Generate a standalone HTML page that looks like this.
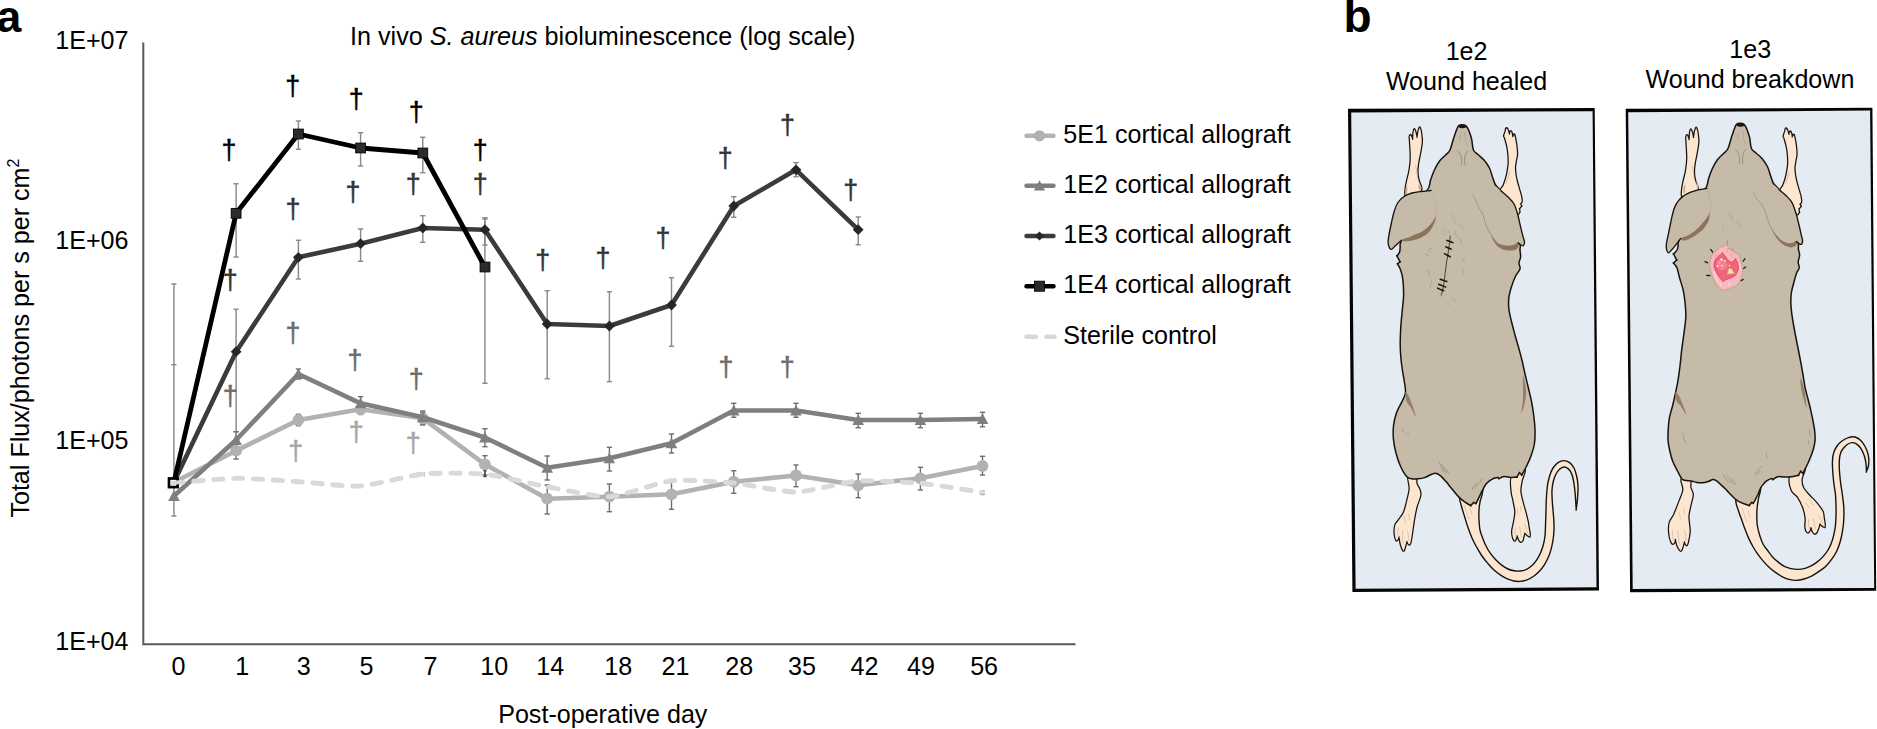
<!DOCTYPE html>
<html lang="en"><head><meta charset="utf-8"><title>In vivo S. aureus bioluminescence</title>
<style>
html,body{margin:0;padding:0;background:#fff;}
body{width:1877px;height:729px;overflow:hidden;}
svg{display:block;font-family:"Liberation Sans", sans-serif;}
</style></head><body>
<svg width="1877" height="729" viewBox="0 0 1877 729">
<g id="chart">
<text x="-3.6" y="31.8" font-size="44.5" text-anchor="start" fill="#000" font-weight="bold">a</text>
<text x="350" y="44.6" font-size="25.2" fill="#000">In vivo <tspan font-style="italic">S. aureus</tspan> bioluminescence (log scale)</text>
<text x="55.2" y="49.2" font-size="25.1" text-anchor="start" fill="#000" >1E+07</text>
<text x="55.2" y="248.8" font-size="25.1" text-anchor="start" fill="#000" >1E+06</text>
<text x="55.2" y="449.4" font-size="25.1" text-anchor="start" fill="#000" >1E+05</text>
<text x="55.2" y="650.4" font-size="25.1" text-anchor="start" fill="#000" >1E+04</text>
<text transform="translate(28.8 517.6) rotate(-90)" font-size="25.1" fill="#000">Total Flux/photons per s per cm<tspan dy="-9.5" font-size="16">2</tspan></text>
<text x="178.6" y="674.6" font-size="25.1" text-anchor="middle" fill="#000" >0</text>
<text x="242.2" y="674.6" font-size="25.1" text-anchor="middle" fill="#000" >1</text>
<text x="303.8" y="674.6" font-size="25.1" text-anchor="middle" fill="#000" >3</text>
<text x="366.4" y="674.6" font-size="25.1" text-anchor="middle" fill="#000" >5</text>
<text x="430.4" y="674.6" font-size="25.1" text-anchor="middle" fill="#000" >7</text>
<text x="494.3" y="674.6" font-size="25.1" text-anchor="middle" fill="#000" >10</text>
<text x="550.2" y="674.6" font-size="25.1" text-anchor="middle" fill="#000" >14</text>
<text x="618.2" y="674.6" font-size="25.1" text-anchor="middle" fill="#000" >18</text>
<text x="675.4" y="674.6" font-size="25.1" text-anchor="middle" fill="#000" >21</text>
<text x="739.3" y="674.6" font-size="25.1" text-anchor="middle" fill="#000" >28</text>
<text x="801.9" y="674.6" font-size="25.1" text-anchor="middle" fill="#000" >35</text>
<text x="864.5" y="674.6" font-size="25.1" text-anchor="middle" fill="#000" >42</text>
<text x="921" y="674.6" font-size="25.1" text-anchor="middle" fill="#000" >49</text>
<text x="984.1" y="674.6" font-size="25.1" text-anchor="middle" fill="#000" >56</text>
<text x="602.8" y="722.6" font-size="25.1" text-anchor="middle" fill="#000" >Post-operative day</text>
<path d="M173.9 284V516" stroke="#8a8a8a" stroke-width="1.45" fill="none"/>
<path d="M171.3 284H176.5" stroke="#8a8a8a" stroke-width="1.45" fill="none"/>
<path d="M171.3 364.7H176.5" stroke="#8a8a8a" stroke-width="1.45" fill="none"/>
<path d="M171.3 516H176.5" stroke="#8a8a8a" stroke-width="1.45" fill="none"/>
<path d="M236.1 183.7V257" stroke="#8a8a8a" stroke-width="1.45" fill="none"/>
<path d="M233.5 183.7H238.7" stroke="#8a8a8a" stroke-width="1.45" fill="none"/>
<path d="M233.5 257H238.7" stroke="#8a8a8a" stroke-width="1.45" fill="none"/>
<path d="M298.4 121V149.3" stroke="#8a8a8a" stroke-width="1.45" fill="none"/>
<path d="M295.8 121H301" stroke="#8a8a8a" stroke-width="1.45" fill="none"/>
<path d="M295.8 149.3H301" stroke="#8a8a8a" stroke-width="1.45" fill="none"/>
<path d="M360.6 132.7V166" stroke="#8a8a8a" stroke-width="1.45" fill="none"/>
<path d="M357.9 132.7H363.2" stroke="#8a8a8a" stroke-width="1.45" fill="none"/>
<path d="M357.9 166H363.2" stroke="#8a8a8a" stroke-width="1.45" fill="none"/>
<path d="M422.8 137.3V172.7" stroke="#8a8a8a" stroke-width="1.45" fill="none"/>
<path d="M420.1 137.3H425.4" stroke="#8a8a8a" stroke-width="1.45" fill="none"/>
<path d="M420.1 172.7H425.4" stroke="#8a8a8a" stroke-width="1.45" fill="none"/>
<path d="M484.9 219V383.3" stroke="#8a8a8a" stroke-width="1.45" fill="none"/>
<path d="M482.3 219H487.6" stroke="#8a8a8a" stroke-width="1.45" fill="none"/>
<path d="M482.3 383.3H487.6" stroke="#8a8a8a" stroke-width="1.45" fill="none"/>
<path d="M236.1 309.3V431.7" stroke="#8a8a8a" stroke-width="1.45" fill="none"/>
<path d="M233.5 309.3H238.7" stroke="#8a8a8a" stroke-width="1.45" fill="none"/>
<path d="M233.5 431.7H238.7" stroke="#8a8a8a" stroke-width="1.45" fill="none"/>
<path d="M298.4 240.3V279" stroke="#8a8a8a" stroke-width="1.45" fill="none"/>
<path d="M295.8 240.3H301" stroke="#8a8a8a" stroke-width="1.45" fill="none"/>
<path d="M295.8 279H301" stroke="#8a8a8a" stroke-width="1.45" fill="none"/>
<path d="M360.6 229V261.3" stroke="#8a8a8a" stroke-width="1.45" fill="none"/>
<path d="M357.9 229H363.2" stroke="#8a8a8a" stroke-width="1.45" fill="none"/>
<path d="M357.9 261.3H363.2" stroke="#8a8a8a" stroke-width="1.45" fill="none"/>
<path d="M422.8 215.7V242.3" stroke="#8a8a8a" stroke-width="1.45" fill="none"/>
<path d="M420.1 215.7H425.4" stroke="#8a8a8a" stroke-width="1.45" fill="none"/>
<path d="M420.1 242.3H425.4" stroke="#8a8a8a" stroke-width="1.45" fill="none"/>
<path d="M484.9 217.7V245" stroke="#8a8a8a" stroke-width="1.45" fill="none"/>
<path d="M482.3 217.7H487.6" stroke="#8a8a8a" stroke-width="1.45" fill="none"/>
<path d="M482.3 245H487.6" stroke="#8a8a8a" stroke-width="1.45" fill="none"/>
<path d="M547.2 290.7V378.7" stroke="#8a8a8a" stroke-width="1.45" fill="none"/>
<path d="M544.6 290.7H549.8" stroke="#8a8a8a" stroke-width="1.45" fill="none"/>
<path d="M544.6 378.7H549.8" stroke="#8a8a8a" stroke-width="1.45" fill="none"/>
<path d="M609.4 291.7V381.7" stroke="#8a8a8a" stroke-width="1.45" fill="none"/>
<path d="M606.8 291.7H612" stroke="#8a8a8a" stroke-width="1.45" fill="none"/>
<path d="M606.8 381.7H612" stroke="#8a8a8a" stroke-width="1.45" fill="none"/>
<path d="M671.5 277.7V346.3" stroke="#8a8a8a" stroke-width="1.45" fill="none"/>
<path d="M668.9 277.7H674.1" stroke="#8a8a8a" stroke-width="1.45" fill="none"/>
<path d="M668.9 346.3H674.1" stroke="#8a8a8a" stroke-width="1.45" fill="none"/>
<path d="M733.8 196.7V217.3" stroke="#8a8a8a" stroke-width="1.45" fill="none"/>
<path d="M731.1 196.7H736.4" stroke="#8a8a8a" stroke-width="1.45" fill="none"/>
<path d="M731.1 217.3H736.4" stroke="#8a8a8a" stroke-width="1.45" fill="none"/>
<path d="M796 162.7V176.7" stroke="#8a8a8a" stroke-width="1.45" fill="none"/>
<path d="M793.4 162.7H798.6" stroke="#8a8a8a" stroke-width="1.45" fill="none"/>
<path d="M793.4 176.7H798.6" stroke="#8a8a8a" stroke-width="1.45" fill="none"/>
<path d="M858.2 217V244.7" stroke="#8a8a8a" stroke-width="1.45" fill="none"/>
<path d="M855.6 217H860.8" stroke="#8a8a8a" stroke-width="1.45" fill="none"/>
<path d="M855.6 244.7H860.8" stroke="#8a8a8a" stroke-width="1.45" fill="none"/>
<path d="M236.1 431.7V448" stroke="#6e6e6e" stroke-width="1.4" fill="none"/>
<path d="M233.5 431.7H238.7" stroke="#6e6e6e" stroke-width="1.4" fill="none"/>
<path d="M233.5 448H238.7" stroke="#6e6e6e" stroke-width="1.4" fill="none"/>
<path d="M298.4 369V379" stroke="#6e6e6e" stroke-width="1.4" fill="none"/>
<path d="M295.8 369H301" stroke="#6e6e6e" stroke-width="1.4" fill="none"/>
<path d="M295.8 379H301" stroke="#6e6e6e" stroke-width="1.4" fill="none"/>
<path d="M360.6 396.7V410" stroke="#6e6e6e" stroke-width="1.4" fill="none"/>
<path d="M357.9 396.7H363.2" stroke="#6e6e6e" stroke-width="1.4" fill="none"/>
<path d="M357.9 410H363.2" stroke="#6e6e6e" stroke-width="1.4" fill="none"/>
<path d="M422.8 411V425" stroke="#6e6e6e" stroke-width="1.4" fill="none"/>
<path d="M420.1 411H425.4" stroke="#6e6e6e" stroke-width="1.4" fill="none"/>
<path d="M420.1 425H425.4" stroke="#6e6e6e" stroke-width="1.4" fill="none"/>
<path d="M484.9 428.7V446.7" stroke="#6e6e6e" stroke-width="1.4" fill="none"/>
<path d="M482.3 428.7H487.6" stroke="#6e6e6e" stroke-width="1.4" fill="none"/>
<path d="M482.3 446.7H487.6" stroke="#6e6e6e" stroke-width="1.4" fill="none"/>
<path d="M547.2 456V480" stroke="#6e6e6e" stroke-width="1.4" fill="none"/>
<path d="M544.6 456H549.8" stroke="#6e6e6e" stroke-width="1.4" fill="none"/>
<path d="M544.6 480H549.8" stroke="#6e6e6e" stroke-width="1.4" fill="none"/>
<path d="M609.4 447.3V471" stroke="#6e6e6e" stroke-width="1.4" fill="none"/>
<path d="M606.8 447.3H612" stroke="#6e6e6e" stroke-width="1.4" fill="none"/>
<path d="M606.8 471H612" stroke="#6e6e6e" stroke-width="1.4" fill="none"/>
<path d="M671.5 434V453" stroke="#6e6e6e" stroke-width="1.4" fill="none"/>
<path d="M668.9 434H674.1" stroke="#6e6e6e" stroke-width="1.4" fill="none"/>
<path d="M668.9 453H674.1" stroke="#6e6e6e" stroke-width="1.4" fill="none"/>
<path d="M733.8 403.3V417.3" stroke="#6e6e6e" stroke-width="1.4" fill="none"/>
<path d="M731.1 403.3H736.4" stroke="#6e6e6e" stroke-width="1.4" fill="none"/>
<path d="M731.1 417.3H736.4" stroke="#6e6e6e" stroke-width="1.4" fill="none"/>
<path d="M796 403.3V417.3" stroke="#6e6e6e" stroke-width="1.4" fill="none"/>
<path d="M793.4 403.3H798.6" stroke="#6e6e6e" stroke-width="1.4" fill="none"/>
<path d="M793.4 417.3H798.6" stroke="#6e6e6e" stroke-width="1.4" fill="none"/>
<path d="M858.2 413.3V427.7" stroke="#6e6e6e" stroke-width="1.4" fill="none"/>
<path d="M855.6 413.3H860.8" stroke="#6e6e6e" stroke-width="1.4" fill="none"/>
<path d="M855.6 427.7H860.8" stroke="#6e6e6e" stroke-width="1.4" fill="none"/>
<path d="M920.4 413.3V427.7" stroke="#6e6e6e" stroke-width="1.4" fill="none"/>
<path d="M917.8 413.3H923" stroke="#6e6e6e" stroke-width="1.4" fill="none"/>
<path d="M917.8 427.7H923" stroke="#6e6e6e" stroke-width="1.4" fill="none"/>
<path d="M982.5 412.3V426.7" stroke="#6e6e6e" stroke-width="1.4" fill="none"/>
<path d="M979.9 412.3H985.1" stroke="#6e6e6e" stroke-width="1.4" fill="none"/>
<path d="M979.9 426.7H985.1" stroke="#6e6e6e" stroke-width="1.4" fill="none"/>
<path d="M236.1 442V459" stroke="#6e6e6e" stroke-width="1.4" fill="none"/>
<path d="M233.5 442H238.7" stroke="#6e6e6e" stroke-width="1.4" fill="none"/>
<path d="M233.5 459H238.7" stroke="#6e6e6e" stroke-width="1.4" fill="none"/>
<path d="M298.4 414.3V425.7" stroke="#6e6e6e" stroke-width="1.4" fill="none"/>
<path d="M295.8 414.3H301" stroke="#6e6e6e" stroke-width="1.4" fill="none"/>
<path d="M295.8 425.7H301" stroke="#6e6e6e" stroke-width="1.4" fill="none"/>
<path d="M360.6 404V414.5" stroke="#6e6e6e" stroke-width="1.4" fill="none"/>
<path d="M357.9 404H363.2" stroke="#6e6e6e" stroke-width="1.4" fill="none"/>
<path d="M357.9 414.5H363.2" stroke="#6e6e6e" stroke-width="1.4" fill="none"/>
<path d="M422.8 412.5V424" stroke="#6e6e6e" stroke-width="1.4" fill="none"/>
<path d="M420.1 412.5H425.4" stroke="#6e6e6e" stroke-width="1.4" fill="none"/>
<path d="M420.1 424H425.4" stroke="#6e6e6e" stroke-width="1.4" fill="none"/>
<path d="M484.9 455.7V475" stroke="#6e6e6e" stroke-width="1.4" fill="none"/>
<path d="M482.3 455.7H487.6" stroke="#6e6e6e" stroke-width="1.4" fill="none"/>
<path d="M482.3 475H487.6" stroke="#6e6e6e" stroke-width="1.4" fill="none"/>
<path d="M547.2 485V514" stroke="#6e6e6e" stroke-width="1.4" fill="none"/>
<path d="M544.6 485H549.8" stroke="#6e6e6e" stroke-width="1.4" fill="none"/>
<path d="M544.6 514H549.8" stroke="#6e6e6e" stroke-width="1.4" fill="none"/>
<path d="M609.4 484V511.7" stroke="#6e6e6e" stroke-width="1.4" fill="none"/>
<path d="M606.8 484H612" stroke="#6e6e6e" stroke-width="1.4" fill="none"/>
<path d="M606.8 511.7H612" stroke="#6e6e6e" stroke-width="1.4" fill="none"/>
<path d="M671.5 481.7V509.3" stroke="#6e6e6e" stroke-width="1.4" fill="none"/>
<path d="M668.9 481.7H674.1" stroke="#6e6e6e" stroke-width="1.4" fill="none"/>
<path d="M668.9 509.3H674.1" stroke="#6e6e6e" stroke-width="1.4" fill="none"/>
<path d="M733.8 470.7V493.3" stroke="#6e6e6e" stroke-width="1.4" fill="none"/>
<path d="M731.1 470.7H736.4" stroke="#6e6e6e" stroke-width="1.4" fill="none"/>
<path d="M731.1 493.3H736.4" stroke="#6e6e6e" stroke-width="1.4" fill="none"/>
<path d="M796 465V486.7" stroke="#6e6e6e" stroke-width="1.4" fill="none"/>
<path d="M793.4 465H798.6" stroke="#6e6e6e" stroke-width="1.4" fill="none"/>
<path d="M793.4 486.7H798.6" stroke="#6e6e6e" stroke-width="1.4" fill="none"/>
<path d="M858.2 474V497.7" stroke="#6e6e6e" stroke-width="1.4" fill="none"/>
<path d="M855.6 474H860.8" stroke="#6e6e6e" stroke-width="1.4" fill="none"/>
<path d="M855.6 497.7H860.8" stroke="#6e6e6e" stroke-width="1.4" fill="none"/>
<path d="M920.4 467.3V490" stroke="#6e6e6e" stroke-width="1.4" fill="none"/>
<path d="M917.8 467.3H923" stroke="#6e6e6e" stroke-width="1.4" fill="none"/>
<path d="M917.8 490H923" stroke="#6e6e6e" stroke-width="1.4" fill="none"/>
<path d="M982.5 456.3V475" stroke="#6e6e6e" stroke-width="1.4" fill="none"/>
<path d="M979.9 456.3H985.1" stroke="#6e6e6e" stroke-width="1.4" fill="none"/>
<path d="M979.9 475H985.1" stroke="#6e6e6e" stroke-width="1.4" fill="none"/>
<path d="M424.2 472.8V476" stroke="#bdbdbd" stroke-width="1.1" fill="none"/>
<path d="M423.2 472.8H425.2" stroke="#bdbdbd" stroke-width="1.1" fill="none"/>
<path d="M423.2 476H425.2" stroke="#bdbdbd" stroke-width="1.1" fill="none"/>
<path d="M484.9 470.5V476.5" stroke="#444" stroke-width="1.4" fill="none"/>
<path d="M483.3 470.5H486.6" stroke="#444" stroke-width="1.4" fill="none"/>
<path d="M483.3 476.5H486.6" stroke="#444" stroke-width="1.4" fill="none"/>
<path d="M982.5 490.7V494.5" stroke="#6e6e6e" stroke-width="1.3" fill="none"/>
<path d="M980.5 490.7H984.5" stroke="#6e6e6e" stroke-width="1.3" fill="none"/>
<path d="M980.5 494.5H984.5" stroke="#6e6e6e" stroke-width="1.3" fill="none"/>
<path d="M173.9 482.3L236.1 450.7L298.4 420L360.6 409.3L422.8 418.3L484.9 464.3L547.2 498.7L609.4 496.7L671.5 494.3L733.8 481.7L796 475.5L858.2 485.3L920.4 478.3L982.5 466" stroke="#b2b2b2" stroke-width="4.6" fill="none" stroke-linejoin="round" stroke-linecap="round"/>
<circle cx="236.1" cy="450.7" r="5.9" fill="#b2b2b2"/>
<circle cx="298.4" cy="420" r="5.9" fill="#b2b2b2"/>
<circle cx="360.6" cy="409.3" r="5.9" fill="#b2b2b2"/>
<circle cx="422.8" cy="418.3" r="5.9" fill="#b2b2b2"/>
<circle cx="484.9" cy="464.3" r="5.9" fill="#b2b2b2"/>
<circle cx="547.2" cy="498.7" r="5.9" fill="#b2b2b2"/>
<circle cx="609.4" cy="496.7" r="5.9" fill="#b2b2b2"/>
<circle cx="671.5" cy="494.3" r="5.9" fill="#b2b2b2"/>
<circle cx="733.8" cy="481.7" r="5.9" fill="#b2b2b2"/>
<circle cx="796" cy="475.5" r="5.9" fill="#b2b2b2"/>
<circle cx="858.2" cy="485.3" r="5.9" fill="#b2b2b2"/>
<circle cx="920.4" cy="478.3" r="5.9" fill="#b2b2b2"/>
<circle cx="982.5" cy="466" r="5.9" fill="#b2b2b2"/>
<path d="M173.9 496L236.1 440L298.4 374L360.6 403.3L422.8 417.3L484.9 437.5L547.2 467.7L609.4 458.3L671.5 443.3L733.8 410.5L796 410.5L858.2 420L920.4 420L982.5 419" stroke="#7f7f7f" stroke-width="4.6" fill="none" stroke-linejoin="round" stroke-linecap="round"/>
<path d="M173.9 490.2L179.8 501L168.1 501Z" fill="#7f7f7f"/>
<path d="M236.1 434.2L241.9 445L230.3 445Z" fill="#7f7f7f"/>
<path d="M298.4 368.2L304.2 379L292.6 379Z" fill="#7f7f7f"/>
<path d="M360.6 397.5L366.4 408.3L354.8 408.3Z" fill="#7f7f7f"/>
<path d="M422.8 411.5L428.6 422.3L416.9 422.3Z" fill="#7f7f7f"/>
<path d="M484.9 431.7L490.8 442.5L479.1 442.5Z" fill="#7f7f7f"/>
<path d="M547.2 461.9L553 472.7L541.4 472.7Z" fill="#7f7f7f"/>
<path d="M609.4 452.5L615.1 463.3L603.6 463.3Z" fill="#7f7f7f"/>
<path d="M671.5 437.5L677.3 448.3L665.8 448.3Z" fill="#7f7f7f"/>
<path d="M733.8 404.7L739.5 415.5L728 415.5Z" fill="#7f7f7f"/>
<path d="M796 404.7L801.8 415.5L790.2 415.5Z" fill="#7f7f7f"/>
<path d="M858.2 414.2L864 425L852.4 425Z" fill="#7f7f7f"/>
<path d="M920.4 414.2L926.2 425L914.6 425Z" fill="#7f7f7f"/>
<path d="M982.5 413.2L988.3 424L976.8 424Z" fill="#7f7f7f"/>
<path d="M173.9 482.3L236.1 351.7L298.4 257.3L360.6 243.7L422.8 228L484.9 229.7L547.2 324L609.4 326L671.5 305L733.8 206L796 169.8L858.2 229.7" stroke="#3b3b3b" stroke-width="4.6" fill="none" stroke-linejoin="round" stroke-linecap="round"/>
<path d="M236.1 346.3L241.5 351.7L236.1 357.1L230.7 351.7Z" fill="#262626"/>
<path d="M298.4 251.9L303.8 257.3L298.4 262.7L293 257.3Z" fill="#262626"/>
<path d="M360.6 238.3L365.9 243.7L360.6 249.1L355.2 243.7Z" fill="#262626"/>
<path d="M422.8 222.6L428.1 228L422.8 233.4L417.4 228Z" fill="#262626"/>
<path d="M484.9 224.3L490.3 229.7L484.9 235.1L479.6 229.7Z" fill="#262626"/>
<path d="M547.2 318.6L552.6 324L547.2 329.4L541.8 324Z" fill="#262626"/>
<path d="M609.4 320.6L614.8 326L609.4 331.4L604 326Z" fill="#262626"/>
<path d="M671.5 299.6L676.9 305L671.5 310.4L666.1 305Z" fill="#262626"/>
<path d="M733.8 200.6L739.1 206L733.8 211.4L728.4 206Z" fill="#262626"/>
<path d="M796 164.4L801.4 169.8L796 175.2L790.6 169.8Z" fill="#262626"/>
<path d="M858.2 224.3L863.6 229.7L858.2 235.1L852.8 229.7Z" fill="#262626"/>
<path d="M173.9 482.3L236.1 213.3L298.4 134L360.6 148L422.8 153L484.9 267" stroke="#000" stroke-width="4.8" fill="none" stroke-linejoin="round" stroke-linecap="round"/>
<rect x="231.2" y="208.4" width="9.8" height="9.8" fill="#2b2b2b" stroke="#000" stroke-width="0.9"/>
<rect x="293.5" y="129.1" width="9.8" height="9.8" fill="#2b2b2b" stroke="#000" stroke-width="0.9"/>
<rect x="355.7" y="143.1" width="9.8" height="9.8" fill="#2b2b2b" stroke="#000" stroke-width="0.9"/>
<rect x="417.9" y="148.1" width="9.8" height="9.8" fill="#2b2b2b" stroke="#000" stroke-width="0.9"/>
<rect x="480.1" y="262.1" width="9.8" height="9.8" fill="#2b2b2b" stroke="#000" stroke-width="0.9"/>
<path d="M173.9 483C180.2 482.5 223.7 478.4 236.1 478.3C248.6 478.2 285.9 480.9 298.4 481.7C310.8 482.5 348.1 486.8 360.6 486C373 485.2 410.3 475.2 422.8 474C435.2 472.8 472.5 472.9 484.9 474.2C497.4 475.5 534.7 484.4 547.2 486.7C559.6 488.9 596.9 497.3 609.4 496.7C621.8 496.1 659.1 482.1 671.5 480.7C684 479.3 721.3 481.9 733.8 483C746.2 484.1 783.5 492.2 796 492C808.4 491.8 845.7 481.9 858.2 481C870.6 480.1 907.9 482.2 920.4 483.3C932.8 484.4 976.3 491.4 982.5 492.3" stroke="#d9d9d9" stroke-width="4.9" fill="none" stroke-dasharray="9.4 10.5" stroke-linecap="round"/>
<rect x="169" y="478.5" width="8.6" height="8.6" fill="#fff" stroke="#000" stroke-width="2.7"/>
<path d="M172.4 483L180.9 482" stroke="#d9d9d9" stroke-width="4.2" stroke-linecap="round"/>
<text x="229" y="159.2" font-size="26.9" text-anchor="middle" fill="#000" stroke="#000" stroke-width="0.45" stroke-linejoin="round">†</text>
<text x="292.7" y="94.8" font-size="26.9" text-anchor="middle" fill="#000" stroke="#000" stroke-width="0.45" stroke-linejoin="round">†</text>
<text x="356.3" y="107.8" font-size="26.9" text-anchor="middle" fill="#000" stroke="#000" stroke-width="0.45" stroke-linejoin="round">†</text>
<text x="416.3" y="120.5" font-size="26.9" text-anchor="middle" fill="#000" stroke="#000" stroke-width="0.45" stroke-linejoin="round">†</text>
<text x="480.2" y="158.8" font-size="26.9" text-anchor="middle" fill="#000" stroke="#000" stroke-width="0.45" stroke-linejoin="round">†</text>
<text x="230.3" y="288.9" font-size="26.9" text-anchor="middle" fill="#333" stroke="#333" stroke-width="0.45" stroke-linejoin="round">†</text>
<text x="293" y="218.2" font-size="26.9" text-anchor="middle" fill="#333" stroke="#333" stroke-width="0.45" stroke-linejoin="round">†</text>
<text x="353" y="201.2" font-size="26.9" text-anchor="middle" fill="#333" stroke="#333" stroke-width="0.45" stroke-linejoin="round">†</text>
<text x="413.3" y="192.8" font-size="26.9" text-anchor="middle" fill="#333" stroke="#333" stroke-width="0.45" stroke-linejoin="round">†</text>
<text x="480.2" y="192.7" font-size="26.9" text-anchor="middle" fill="#333" stroke="#333" stroke-width="0.45" stroke-linejoin="round">†</text>
<text x="542.7" y="268.9" font-size="26.9" text-anchor="middle" fill="#333" stroke="#333" stroke-width="0.45" stroke-linejoin="round">†</text>
<text x="603" y="267.2" font-size="26.9" text-anchor="middle" fill="#333" stroke="#333" stroke-width="0.45" stroke-linejoin="round">†</text>
<text x="663" y="246.8" font-size="26.9" text-anchor="middle" fill="#333" stroke="#333" stroke-width="0.45" stroke-linejoin="round">†</text>
<text x="725.3" y="167.2" font-size="26.9" text-anchor="middle" fill="#333" stroke="#333" stroke-width="0.45" stroke-linejoin="round">†</text>
<text x="787.4" y="134.3" font-size="26.9" text-anchor="middle" fill="#333" stroke="#333" stroke-width="0.45" stroke-linejoin="round">†</text>
<text x="850.7" y="198.5" font-size="26.9" text-anchor="middle" fill="#333" stroke="#333" stroke-width="0.45" stroke-linejoin="round">†</text>
<text x="230.3" y="404.6" font-size="26.9" text-anchor="middle" fill="#6b6b6b" stroke="#6b6b6b" stroke-width="0.45" stroke-linejoin="round">†</text>
<text x="293" y="341.6" font-size="26.9" text-anchor="middle" fill="#6b6b6b" stroke="#6b6b6b" stroke-width="0.45" stroke-linejoin="round">†</text>
<text x="355" y="368.9" font-size="26.9" text-anchor="middle" fill="#6b6b6b" stroke="#6b6b6b" stroke-width="0.45" stroke-linejoin="round">†</text>
<text x="416.3" y="387.6" font-size="26.9" text-anchor="middle" fill="#6b6b6b" stroke="#6b6b6b" stroke-width="0.45" stroke-linejoin="round">†</text>
<text x="726" y="376.2" font-size="26.9" text-anchor="middle" fill="#6b6b6b" stroke="#6b6b6b" stroke-width="0.45" stroke-linejoin="round">†</text>
<text x="787.3" y="376.2" font-size="26.9" text-anchor="middle" fill="#6b6b6b" stroke="#6b6b6b" stroke-width="0.45" stroke-linejoin="round">†</text>
<text x="295.7" y="459.6" font-size="26.9" text-anchor="middle" fill="#a6a6a6" stroke="#a6a6a6" stroke-width="0.45" stroke-linejoin="round">†</text>
<text x="356.3" y="440.9" font-size="26.9" text-anchor="middle" fill="#a6a6a6" stroke="#a6a6a6" stroke-width="0.45" stroke-linejoin="round">†</text>
<text x="413.3" y="451.6" font-size="26.9" text-anchor="middle" fill="#a6a6a6" stroke="#a6a6a6" stroke-width="0.45" stroke-linejoin="round">†</text>
<path d="M143.3 42.5V644.3H1075.5" stroke="#595959" stroke-width="2" fill="none"/>
<path d="M1026.5 135.8H1053.5" stroke="#b2b2b2" stroke-width="4.4" stroke-linecap="round"/>
<circle cx="1039.5" cy="135.8" r="5.6" fill="#b2b2b2"/>
<text x="1063.3" y="142.7" font-size="25.1" text-anchor="start" fill="#000" >5E1 cortical allograft</text>
<path d="M1026.5 185.8H1053.5" stroke="#7f7f7f" stroke-width="4.4" stroke-linecap="round"/>
<path d="M1039.5 180.2L1045.1 190.4L1033.9 190.4Z" fill="#7f7f7f"/>
<text x="1063.3" y="192.7" font-size="25.1" text-anchor="start" fill="#000" >1E2 cortical allograft</text>
<path d="M1026.5 236H1053.5" stroke="#3b3b3b" stroke-width="4.4" stroke-linecap="round"/>
<path d="M1039.5 231.4L1044.1 236L1039.5 240.6L1034.9 236Z" fill="#262626"/>
<text x="1063.3" y="242.9" font-size="25.1" text-anchor="start" fill="#000" >1E3 cortical allograft</text>
<path d="M1026.5 286.2H1053.5" stroke="#000" stroke-width="4.4" stroke-linecap="round"/>
<rect x="1034.5" y="281.2" width="10" height="10" fill="#2b2b2b" stroke="#000" stroke-width="0.9"/>
<text x="1063.3" y="293.1" font-size="25.1" text-anchor="start" fill="#000" >1E4 cortical allograft</text>
<path d="M1026.5 336.8H1054.5" stroke="#d9d9d9" stroke-width="4.6" stroke-linecap="round" stroke-dasharray="9.4 10.5"/>
<text x="1063.3" y="343.6" font-size="25.1" text-anchor="start" fill="#000" >Sterile control</text>
</g>
<g id="panelb">
<text x="1343.4" y="31.6" font-size="46" text-anchor="start" fill="#000" font-weight="bold">b</text>
<text x="1466.6" y="59.7" font-size="25.1" text-anchor="middle" fill="#000" >1e2</text>
<text x="1466.6" y="89.8" font-size="25.1" text-anchor="middle" fill="#000" >Wound healed</text>
<text x="1750.3" y="58.3" font-size="25.1" text-anchor="middle" fill="#000" >1e3</text>
<text x="1750" y="88.3" font-size="25.1" text-anchor="middle" fill="#000" >Wound breakdown</text>
<path d="M1348 108.8L1594.7 108.1L1599 590.5L1352.4 592Z" fill="#050505"/>
<path d="M1351.2 112.6L1592.6 111.2L1596.5 587.3L1355.6 588.7Z" fill="#e4ebf2"/>
<path d="M1625.7 108.7L1872.4 107.8L1876.2 590.8L1630.1 592.3Z" fill="#050505"/>
<path d="M1628.2 112.2L1870.1 110.6L1874.2 587.9L1632.7 589Z" fill="#e4ebf2"/>
<path d="M1461 487C1457.4 489 1459.3 493.8 1459.4 497C1459.5 500.2 1460.6 502.8 1461.4 506C1462.2 509.2 1463.3 512.4 1464.4 516C1465.5 519.6 1466.7 523.9 1468 527.6C1469.3 531.3 1470.6 534.8 1472 538C1473.4 541.2 1474.9 544 1476.6 547C1478.3 550 1480.1 553.2 1482 556C1483.9 558.8 1486 561.3 1488 563.6C1490 565.9 1491.8 568 1494 570C1496.2 572 1498.7 573.9 1501 575.4C1503.3 576.9 1505.8 578.3 1508 579.2C1510.2 580.1 1512 580.6 1514 581C1516 581.4 1517.8 581.6 1520 581.4C1522.2 581.2 1524.7 580.7 1527 579.8C1529.3 578.9 1531.9 577.5 1534 576C1536.1 574.5 1537.9 572.8 1539.6 571C1541.3 569.2 1542.6 567.6 1544 565.4C1545.4 563.2 1546.8 560.6 1548 558C1549.2 555.4 1550.2 552.6 1551 549.6C1551.8 546.6 1552.5 543.3 1553 540C1553.5 536.7 1553.9 533.3 1554 530C1554.1 526.7 1554 523.3 1553.8 520C1553.6 516.7 1553.3 513.3 1553 510C1552.7 506.7 1552.4 503.3 1552.2 500C1552 496.7 1551.8 493.2 1552 490C1552.2 486.8 1552.7 483.7 1553.4 481C1554.1 478.3 1554.9 476 1556 474C1557.1 472 1558.5 470.2 1559.8 469C1561.1 467.8 1562.6 467.1 1564 467C1565.4 466.9 1566.8 467.7 1568 468.6C1569.2 469.5 1570.1 470.5 1571 472.4C1571.9 474.3 1572.8 477.1 1573.4 480C1574 482.9 1574.4 486.7 1574.8 490C1575.2 493.3 1575.4 496.8 1575.6 500C1575.8 503.2 1576.1 507.5 1576.2 509C1576.3 510.5 1576 510.5 1576.2 509C1576.4 507.5 1577.1 503.8 1577.4 500C1577.7 496.2 1578.1 490 1578 486C1577.9 482 1577.3 479 1576.6 476C1575.9 473 1575.2 470.2 1574 468C1572.8 465.8 1571.3 463.8 1569.6 462.6C1567.9 461.4 1565.9 460.6 1564 460.6C1562.1 460.6 1559.8 461.4 1558 462.6C1556.2 463.8 1554.4 465.8 1553 468C1551.6 470.2 1550.5 473 1549.6 476C1548.7 479 1547.9 482.3 1547.4 486C1546.9 489.7 1546.6 494 1546.4 498C1546.2 502 1546.1 505.8 1546 510C1545.9 514.2 1545.8 518.7 1545.6 523C1545.4 527.3 1545.4 532.2 1545 536C1544.6 539.8 1543.8 543 1543 546C1542.2 549 1541.1 551.6 1540 554C1538.9 556.4 1537.7 558.5 1536.4 560.4C1535.1 562.3 1533.6 564.1 1532 565.6C1530.4 567.1 1528.6 568.5 1526.6 569.4C1524.6 570.3 1522.1 570.8 1520 571C1517.9 571.2 1516 571.1 1514 570.8C1512 570.5 1510 569.9 1508 569C1506 568.1 1504 566.9 1502 565.4C1500 563.9 1497.9 562 1496 560C1494.1 558 1492.3 555.9 1490.6 553.6C1488.9 551.3 1487.3 548.6 1486 546C1484.7 543.4 1483.6 540.7 1482.6 538C1481.6 535.3 1480.6 533 1480 530C1479.4 527 1479.2 523.3 1479 520C1478.8 516.7 1478.8 513.2 1479 510C1479.2 506.8 1479.6 503.8 1480.2 501C1480.8 498.2 1482.3 495.7 1482.4 493C1482.5 490.3 1484.6 486 1481 485C1477.4 484 1464.6 485 1461 487Z" fill="#fde6d0" stroke="#17130f" stroke-width="1.4" stroke-linejoin="round" stroke-linecap="round"/>
<path d="M1407.8 476C1406.7 478.1 1409.3 484.4 1409.1 488.5C1408.9 492.6 1407.5 497 1406.6 500.9C1405.7 504.8 1404.8 508.9 1403.5 512C1402.2 515.1 1400 517.3 1398.6 519.4C1397.2 521.5 1395.7 522.5 1394.9 524.6C1394.1 526.7 1394 529.6 1394 531.7C1394 533.8 1394.3 535.5 1394.6 537C1394.9 538.5 1395.5 540.2 1396 540.8C1396.5 541.4 1397.1 540.9 1397.6 540.4C1398.1 539.9 1398.8 538.1 1399 537.6C1399.2 537.1 1398.8 536.4 1399 537.6C1399.2 538.8 1399.8 542.8 1400.4 545C1401 547.2 1401.9 549.7 1402.6 550.6C1403.3 551.5 1403.9 551.4 1404.4 550.6C1404.9 549.8 1405.4 547.4 1405.8 546C1406.2 544.6 1406.8 542.7 1407 542C1407.2 541.3 1406.8 541.6 1407 542C1407.2 542.4 1407.7 543.9 1408.2 544.4C1408.7 544.9 1409.3 545.3 1409.8 545C1410.3 544.7 1410.7 543.8 1411 542.6C1411.3 541.4 1411.6 539.9 1411.9 538C1412.2 536.1 1412.5 534.1 1412.9 531C1413.4 527.9 1413.9 523.4 1414.6 519.4C1415.3 515.4 1416.1 510.9 1417.1 507C1418.1 503.1 1420.3 498.8 1420.8 495.9C1421.3 493 1420.8 491.9 1420.2 489.8C1419.6 487.8 1417.8 485.9 1417.1 483.6C1416.4 481.3 1417.5 477.3 1415.9 476C1414.4 474.7 1408.9 473.9 1407.8 476Z" fill="#fde6d0" stroke="#17130f" stroke-width="1.25" stroke-linejoin="round" stroke-linecap="round"/>
<path d="M1511.6 476C1509.2 479.6 1510.8 486.8 1511 490.9C1511.2 495 1512.3 497.2 1512.9 500.7C1513.5 504.2 1514.7 508.4 1514.8 511.9C1514.9 515.4 1514 518.6 1513.5 521.7C1513 524.8 1512 528 1511.7 530.4C1511.5 532.8 1511.7 534.3 1512 536C1512.3 537.7 1513 539.6 1513.6 540.4C1514.2 541.2 1515 541.3 1515.6 540.6C1516.2 539.9 1516.9 537.1 1517.2 536.4C1517.5 535.7 1517 535.8 1517.2 536.4C1517.4 537 1518 539 1518.6 540C1519.2 541 1519.9 542.2 1520.6 542.4C1521.3 542.6 1522.3 541.8 1522.8 541C1523.3 540.2 1523.5 538.8 1523.8 537.6C1524.1 536.4 1524.6 534.3 1524.8 533.6C1525 532.9 1524.4 533.3 1524.8 533.6C1525.2 533.9 1526.1 534.8 1527 535.4C1527.9 536 1529.5 537.4 1530 537C1530.5 536.6 1530.3 534.6 1530.2 533C1530.1 531.4 1529.5 529.5 1529.2 527.6C1528.9 525.7 1528.8 524.3 1528.3 521.7C1527.8 519.1 1526.8 515.4 1525.9 511.9C1525 508.4 1523.6 504.2 1522.8 500.7C1522 497.2 1521 494.2 1520.9 490.9C1520.8 487.6 1521.5 484.6 1522.2 481C1522.9 477.4 1527 469.8 1525.2 469C1523.4 468.2 1514 472.4 1511.6 476Z" fill="#fde6d0" stroke="#17130f" stroke-width="1.25" stroke-linejoin="round" stroke-linecap="round"/>
<path d="M1409.2 138C1409.1 136 1409.2 136.2 1409.4 135.6C1409.6 135 1410.2 134.4 1410.6 134.4C1411 134.4 1411.3 134.9 1411.6 135.6C1411.9 136.3 1412.4 138.3 1412.6 138.8C1412.8 139.3 1412.5 139.9 1412.6 138.8C1412.7 137.7 1412.7 133.7 1413 132C1413.3 130.3 1413.8 128.8 1414.2 128.6C1414.6 128.4 1415.1 129.3 1415.6 130.6C1416.1 131.9 1416.8 135.6 1417 136.6C1417.2 137.6 1416.8 137.6 1417 136.6C1417.2 135.6 1417.6 132.2 1418 130.6C1418.4 129 1419.1 127 1419.6 126.8C1420.1 126.6 1420.6 128.4 1421 129.6C1421.4 130.8 1421.6 131.9 1421.8 134C1422 136.1 1422.6 138.8 1422.4 142C1422.2 145.2 1421.3 149.3 1420.7 153C1420.1 156.7 1419 160.7 1418.6 164C1418.1 167.3 1417.9 169.9 1418 172.7C1418.1 175.5 1418.7 178.4 1419.4 181C1420.1 183.6 1422.2 186.1 1422 188.4C1421.8 190.7 1420.7 193.6 1418 195C1415.3 196.4 1408.2 197.8 1406 197C1403.8 196.2 1404.9 192.8 1405 190C1405.1 187.2 1405.9 183.7 1406.6 180.4C1407.3 177.1 1408.4 173.7 1409 170C1409.6 166.3 1410.1 162.2 1410.2 158.5C1410.3 154.8 1410 150.9 1409.8 147.5C1409.6 144.1 1409.3 140 1409.2 138Z" fill="#fde6d0" stroke="#17130f" stroke-width="1.25" stroke-linejoin="round" stroke-linecap="round"/>
<path d="M1504.6 138.6C1504 136.5 1503.7 137.1 1503.6 136.4C1503.5 135.7 1503.8 135 1504 134.2C1504.2 133.4 1504.7 132.5 1505 131.6C1505.3 130.7 1505.3 129.3 1505.6 128.6C1505.9 127.9 1506.4 127.4 1506.8 127.6C1507.2 127.8 1507.8 128.6 1508.2 129.6C1508.6 130.6 1509.2 132.9 1509.4 133.6C1509.6 134.3 1509.3 134 1509.4 133.6C1509.5 133.2 1509.7 131.9 1510 131.4C1510.3 130.9 1510.8 130.6 1511.2 130.8C1511.6 131 1511.9 131.9 1512.2 132.8C1512.5 133.7 1512.7 135.6 1512.8 136.2C1512.9 136.8 1512.7 136.5 1512.8 136.2C1512.9 135.9 1513.3 134.5 1513.6 134.2C1513.9 133.9 1514.4 133.5 1514.8 134.4C1515.2 135.3 1515.6 137.7 1516 139.6C1516.4 141.5 1516.7 143.6 1517 146C1517.3 148.4 1517.7 151.5 1517.6 154C1517.5 156.5 1516.8 158.8 1516.4 161C1516.1 163.2 1515.6 164.8 1515.5 167C1515.4 169.2 1515.7 171.7 1516 174C1516.3 176.3 1516.7 178.3 1517.4 181C1518.1 183.7 1519.3 187.9 1520 190.4C1520.7 192.9 1521.2 194.1 1521.6 196C1522 197.9 1522.4 200.3 1522.2 201.6C1522 202.9 1520.9 203.6 1520.6 204C1520.3 204.4 1520.4 203.7 1520.6 204C1520.8 204.3 1521.6 205.7 1521.8 206C1522 206.3 1522.2 205.6 1521.8 206C1521.4 206.4 1520 208.2 1519.6 208.6C1519.2 209 1519.5 208 1519.6 208.6C1519.7 209.2 1519.9 211.4 1520 212C1520.1 212.6 1520.5 211.7 1520 212C1519.5 212.3 1519 215.7 1517 214C1515 212.3 1510.8 205.8 1508 202C1505.2 198.2 1500.8 194.2 1500 191.4C1499.2 188.6 1502.1 187.8 1503.2 185C1504.3 182.2 1505.6 178.5 1506.4 174.7C1507.2 170.9 1508.1 166.3 1508.2 162C1508.3 157.7 1507.8 152.9 1507.2 149C1506.6 145.1 1505.2 140.7 1504.6 138.6Z" fill="#fde6d0" stroke="#17130f" stroke-width="1.25" stroke-linejoin="round" stroke-linecap="round"/>
<path d="M1405.6 188L1407.4 186L1407 194L1405.4 195Z" fill="#c9a68a"/>
<path d="M1418.4 183L1421.6 188L1419 191Z" fill="#c9a68a"/>
<path d="M1462 124.8C1463.2 124.8 1464.9 124.9 1466 125.8C1467.1 126.7 1467.7 127.8 1468.6 130C1469.5 132.2 1470.8 135.7 1471.6 139C1472.4 142.3 1472.3 147.4 1473.4 150C1474.5 152.6 1476.2 152.8 1478 154.5C1479.8 156.2 1482.1 157.8 1484 160C1485.9 162.2 1488 165.2 1489.4 168C1490.8 170.8 1491.5 174.2 1492.5 177C1493.5 179.8 1494.1 182.7 1495.5 185C1496.9 187.3 1498.6 187.7 1501 191C1503.4 194.3 1507.3 199.3 1510 205C1512.7 210.7 1515.3 218.5 1517 225C1518.7 231.5 1519.7 239.8 1520.2 244C1520.7 248.2 1519.9 247.8 1520 250C1520.1 252.2 1520.8 254.8 1520.6 257C1520.4 259.2 1519.1 261 1519 263C1518.9 265 1520.6 266.8 1520 269C1519.4 271.2 1517 273 1515.6 276C1514.2 279 1512.5 283.3 1511.4 287C1510.3 290.7 1509.2 294.2 1508.8 298C1508.4 301.8 1508.5 306 1509 310C1509.5 314 1510.6 317.8 1511.6 322C1512.6 326.2 1513.8 330.5 1515 335C1516.2 339.5 1517.8 344.5 1519 349C1520.2 353.5 1521.4 357.8 1522.4 362C1523.4 366.2 1524 369.7 1525 374C1526 378.3 1527.3 383.3 1528.4 388C1529.5 392.7 1530.7 397.3 1531.6 402C1532.5 406.7 1533.2 411.3 1533.8 416C1534.4 420.7 1534.9 425.3 1535 430C1535.1 434.7 1535.1 439.7 1534.4 444C1533.7 448.3 1532.3 452.3 1531 456C1529.7 459.7 1527.7 463.6 1526.6 466C1525.5 468.4 1524.8 469.7 1524.4 470.4C1524 471.1 1524.8 469.6 1524.4 470.4C1524 471.2 1522.2 474.2 1521.8 475C1521.4 475.8 1522.2 475.4 1521.8 475C1521.4 474.6 1519.8 473.2 1519.4 472.8C1519 472.4 1519.8 472.1 1519.4 472.8C1519 473.5 1517.4 476.3 1517 477C1516.6 477.7 1518 476.9 1517 477C1516 477.1 1513.2 477.5 1511 477.4C1508.8 477.3 1506 476.4 1504 476.6C1502 476.8 1499.8 478.3 1499 478.6C1498.2 478.9 1499.3 478.8 1499 478.6C1498.7 478.4 1498.7 477.4 1497.4 477.6C1496.1 477.8 1492.9 478.7 1491 479.8C1489.1 480.9 1487.4 482.2 1486 484C1484.6 485.8 1483.6 488.2 1482.4 490.4C1481.2 492.6 1480.1 495.2 1479 497.4C1477.9 499.6 1476.5 502.4 1476 503.4C1475.5 504.4 1476.4 503.5 1476 503.4C1475.6 503.3 1474 502.7 1473.6 502.6C1473.2 502.5 1474.1 502.1 1473.6 502.6C1473.1 503.1 1471.1 505.1 1470.6 505.6C1470.1 506.1 1471.5 506.2 1470.6 505.6C1469.7 505 1467 503.7 1465 502.2C1463 500.7 1460.6 498.8 1458.4 496.6C1456.2 494.4 1454.1 491.5 1452 489C1449.9 486.5 1447.9 483.8 1446 481.6C1444.1 479.4 1442.3 477.2 1440.6 475.8C1438.9 474.4 1437.3 473.4 1435.6 473.2C1433.9 473 1432.4 474.1 1430.6 474.8C1428.8 475.5 1426.7 476.9 1424.6 477.6C1422.5 478.3 1420.2 478.6 1418 478.8C1415.8 479 1413.5 479.2 1411.6 478.8C1409.7 478.4 1408.5 478.7 1406.6 476.6C1404.7 474.5 1402.2 469.9 1400.4 466C1398.6 462.1 1397.2 457.5 1396 453C1394.8 448.5 1393.8 443.7 1393.4 439C1393 434.3 1393.1 429.4 1393.6 425C1394.1 420.6 1395.3 416.4 1396.6 412.6C1397.9 408.8 1400.1 405.7 1401.6 402.4C1403.1 399.1 1404.9 396.4 1405.4 393C1405.9 389.6 1404.9 385.8 1404.4 382C1403.9 378.2 1403 374.2 1402.4 370C1401.8 365.8 1401.2 361.5 1400.8 357C1400.4 352.5 1400.2 348 1400.2 343C1400.2 338 1400.5 332.3 1400.8 327C1401.1 321.7 1401.7 316.3 1402.2 311C1402.7 305.7 1403.5 300 1403.6 295C1403.7 290 1403.4 285 1403 281C1402.6 277 1401.9 273.8 1401 271C1400.1 268.2 1398.2 265.2 1397.6 264C1397 262.8 1397.2 264.4 1397.6 264C1398 263.6 1399.6 262 1400 261.6C1400.4 261.2 1400.5 262.5 1400 261.6C1399.5 260.7 1397.5 256.9 1397 256C1396.5 255.1 1396.6 256.7 1397 256C1397.4 255.3 1399.1 253.5 1399.6 252C1400.1 250.5 1400 248.7 1400.2 247C1400.4 245.3 1399.2 247.3 1400.8 242C1402.4 236.7 1406.5 222.7 1410 215C1413.5 207.3 1418.9 200.5 1422 196C1425.1 191.5 1427.2 190.7 1428.6 188C1430 185.3 1429.6 183 1430.6 180C1431.6 177 1432.9 173.2 1434.4 170C1435.9 166.8 1437.7 163.5 1439.6 161C1441.5 158.5 1443.9 156.8 1445.6 155C1447.3 153.2 1448.7 152.7 1450 150C1451.3 147.3 1452.3 142.3 1453.4 139C1454.5 135.7 1455.6 132.2 1456.5 130C1457.4 127.8 1457.7 126.7 1458.6 125.8C1459.5 124.9 1460.8 124.8 1462 124.8Z" fill="#c6bba9" stroke="#17130f" stroke-width="1.5" stroke-linejoin="round" stroke-linecap="round"/>
<path d="M1415.6 166C1415.8 167 1416.7 170 1417 172C1417.3 174 1417.3 177 1417.4 178" fill="none" stroke="#b89f8c" stroke-width="0.6" stroke-linecap="round" stroke-linejoin="round"/>
<path d="M1509.4 172C1509.2 173 1508.6 176.2 1508 178C1507.4 179.8 1506.3 182.2 1506 183" fill="none" stroke="#b89f8c" stroke-width="0.6" stroke-linecap="round" stroke-linejoin="round"/>
<circle cx="1410.4" cy="135" r="0.7" fill="#3a2a22"/>
<circle cx="1414.2" cy="129.4" r="0.7" fill="#3a2a22"/>
<circle cx="1419.6" cy="127.6" r="0.7" fill="#3a2a22"/>
<circle cx="1506.8" cy="128.4" r="0.7" fill="#3a2a22"/>
<circle cx="1511.2" cy="131.6" r="0.7" fill="#3a2a22"/>
<circle cx="1514.6" cy="135" r="0.7" fill="#3a2a22"/>
<path d="M1405.6 392C1406.1 391.5 1407.9 393.9 1409.6 398C1411.3 402.1 1415.9 415.1 1416 416.6C1416.1 418.1 1412 409.6 1410.4 407C1408.8 404.4 1407.2 403.5 1406.4 401C1405.6 398.5 1405.1 392.5 1405.6 392Z" fill="#977c68"/>
<path d="M1523 376C1523.5 374.7 1525.7 385.7 1526 390C1526.3 394.3 1525.8 398.2 1525 402C1524.2 405.8 1521.7 413.7 1521.4 413C1521.1 412.3 1522.7 404.2 1523 398C1523.3 391.8 1522.5 377.3 1523 376Z" fill="#977c68"/>
<path d="M1401.6 239.4C1402.2 238.8 1406.5 237.3 1408 236.6C1409.5 235.9 1411.2 235.1 1413 234.4C1414.8 233.7 1419.2 232.2 1421.2 231.1C1423.2 230 1426.2 227.6 1427.7 226.2C1429.2 224.8 1431.6 222 1432.7 220.4C1433.8 218.8 1435.9 214.2 1436.2 214.4C1436.5 214.6 1435.6 219.7 1435 221.6C1434.4 223.5 1432.7 226.7 1431.6 228.4C1430.5 230.1 1428.4 232.8 1427 234C1425.6 235.2 1422.9 236.6 1421.2 237.4C1419.5 238.2 1416.4 239.5 1414.6 240C1412.8 240.5 1409.5 241 1408 241.2C1406.5 241.4 1404.5 241.4 1403.6 241.2C1402.7 241 1401 240 1401.6 239.4Z" fill="#8f725d"/>
<path d="M1490.2 231.4C1490.9 231.9 1494.9 239.2 1496.5 240.9C1498.1 242.6 1500.8 243.3 1502.3 243.8C1503.8 244.3 1506.5 244.7 1508 244.7C1509.5 244.7 1512.4 244.2 1513.8 243.8C1515.2 243.4 1517.8 241.5 1518.4 242C1519 242.5 1518.5 246.3 1518 247.4C1517.5 248.5 1515.9 249.6 1514.8 250C1513.7 250.4 1511.4 250.6 1510 250.6C1508.6 250.6 1505.7 250.3 1504.2 249.8C1502.7 249.3 1499.7 247.9 1498.4 246.9C1497.1 245.9 1495.3 243.5 1494.4 242.2C1493.5 240.9 1492.2 238.4 1491.6 237C1491 235.6 1489.5 230.9 1490.2 231.4Z" fill="#8f725d"/>
<path d="M1431 190.5C1428.8 189.2 1424.2 191.1 1421 191.5C1417.8 191.9 1414.8 192.2 1412 193C1409.2 193.8 1406.4 194.8 1404 196.5C1401.6 198.2 1399.3 200.4 1397.6 203C1395.9 205.6 1395 208.7 1394 212C1393 215.3 1392.3 219 1391.4 223C1390.5 227 1389.3 232.6 1388.8 236C1388.3 239.4 1387.8 241.4 1388.2 243.6C1388.6 245.8 1389.8 249.1 1391 249.4C1392.2 249.7 1393.8 247.1 1395.6 245.6C1397.4 244.1 1399.5 241.5 1401.6 240.2C1403.7 238.9 1406.1 238.4 1408 237.6C1409.9 236.8 1410.8 236.3 1413 235.4C1415.2 234.5 1418.8 233.5 1421.2 232.1C1423.7 230.7 1425.8 229 1427.7 227.2C1429.6 225.4 1431.3 223.3 1432.7 221.4C1434.1 219.5 1435.4 217.8 1436 215.6C1436.6 213.4 1436.7 210.8 1436.4 208C1436.1 205.2 1434.9 201.9 1434 199C1433.1 196.1 1433.2 191.8 1431 190.5Z" fill="#c6bba9"/>
<path d="M1475.9 201C1475.1 204.1 1478 206 1479.2 208.3C1480.4 210.6 1481.9 212.3 1483 215C1484.1 217.7 1484.6 221.4 1485.9 224.6C1487.2 227.8 1488.9 231.3 1490.7 234.2C1492.5 237.1 1494.6 240.1 1496.5 241.9C1498.4 243.7 1500.4 244.2 1502.3 244.8C1504.2 245.4 1506.1 245.7 1508 245.7C1509.9 245.7 1512.1 245.3 1513.8 244.8C1515.5 244.3 1516.9 242.8 1518.1 242.8C1519.3 242.8 1520.1 244.5 1521 245C1521.9 245.5 1522.8 246.2 1523.4 245.7C1524 245.2 1524.6 243.5 1524.5 241.9C1524.4 240.3 1523.6 238.7 1522.9 236.1C1522.2 233.5 1521.4 230.2 1520.5 226.5C1519.6 222.8 1518.7 217.8 1517.6 214C1516.5 210.2 1515.6 206.8 1514 204C1512.4 201.2 1510.2 199.2 1508 197C1505.8 194.8 1503.3 192.8 1501 191C1498.7 189.2 1496.8 186.2 1494 186C1491.2 185.8 1487 187.5 1484 190C1481 192.5 1476.7 197.9 1475.9 201Z" fill="#c6bba9"/>
<path d="M1431 190.5C1429.3 190.7 1424.2 191.1 1421 191.5C1417.8 191.9 1414.8 192.2 1412 193C1409.2 193.8 1406.4 194.8 1404 196.5C1401.6 198.2 1399.3 200.4 1397.6 203C1395.9 205.6 1395 208.7 1394 212C1393 215.3 1392.3 219 1391.4 223C1390.5 227 1389.3 232.6 1388.8 236C1388.3 239.4 1387.8 241.4 1388.2 243.6C1388.6 245.8 1389.8 249.1 1391 249.4C1392.2 249.7 1393.8 247.1 1395.6 245.6C1397.4 244.1 1400.6 241.1 1401.6 240.2" fill="none" stroke="#17130f" stroke-width="1.35" stroke-linecap="round" stroke-linejoin="round"/>
<path d="M1518.1 242.8C1518.6 243.2 1520.1 244.5 1521 245C1521.9 245.5 1522.8 246.2 1523.4 245.7C1524 245.2 1524.6 243.5 1524.5 241.9C1524.4 240.3 1523.6 238.7 1522.9 236.1C1522.2 233.5 1521.4 230.2 1520.5 226.5C1519.6 222.8 1518.7 217.8 1517.6 214C1516.5 210.2 1515.6 206.8 1514 204C1512.4 201.2 1510.2 199.2 1508 197C1505.8 194.8 1502.2 192 1501 191" fill="none" stroke="#17130f" stroke-width="1.35" stroke-linecap="round" stroke-linejoin="round"/>
<path d="M1475.9 201C1476.5 202.2 1478 206 1479.2 208.3C1480.4 210.6 1481.9 212.3 1483 215C1484.1 217.7 1484.6 221.4 1485.9 224.6C1487.2 227.8 1488.9 231.3 1490.7 234.2C1492.5 237.1 1495.5 240.6 1496.5 241.9" fill="none" stroke="#9b8875" stroke-width="0.8" stroke-linecap="round" stroke-linejoin="round"/>
<path d="M1436.2 214C1436.2 212.8 1436.6 209.5 1436.2 207C1435.8 204.5 1435 201.6 1434 199C1433 196.4 1431 192.8 1430.4 191.6" fill="none" stroke="#b7a996" stroke-width="0.7" stroke-linecap="round" stroke-linejoin="round"/>
<path d="M1475.9 201C1475.6 200.4 1474.5 198.7 1474 197.6C1473.5 196.5 1473 195.1 1472.8 194.6" fill="none" stroke="#a59380" stroke-width="0.7" stroke-linecap="round" stroke-linejoin="round"/>
<ellipse cx="1462.4" cy="126.5" rx="3.9" ry="1.7" fill="#1d1512"/>
<path d="M1457.6 151C1458.1 151.6 1459.7 153.1 1460.4 154.6C1461.1 156.1 1461.4 158.3 1461.6 160C1461.8 161.7 1461.4 164.2 1461.4 165" fill="none" stroke="#8d806e" stroke-width="0.8" stroke-linecap="round" stroke-linejoin="round"/>
<path d="M1467.6 151C1467.2 151.6 1465.9 153.1 1465.4 154.6C1464.9 156.1 1464.7 158.3 1464.6 160C1464.5 161.7 1464.9 164.2 1465 165" fill="none" stroke="#8d806e" stroke-width="0.8" stroke-linecap="round" stroke-linejoin="round"/>
<path d="M1460.4 135C1460.2 136 1459.6 140 1459.4 141" fill="none" stroke="#a89b89" stroke-width="0.7" stroke-linecap="round" stroke-linejoin="round"/>
<path d="M1464.6 133C1464.8 134.2 1465.4 138.8 1465.6 140" fill="none" stroke="#a89b89" stroke-width="0.7" stroke-linecap="round" stroke-linejoin="round"/>
<path d="M1466.6 142C1466.7 142.7 1467.3 145.3 1467.4 146" fill="none" stroke="#a89b89" stroke-width="0.6" stroke-linecap="round" stroke-linejoin="round"/>
<path d="M1451 214C1451.3 215.2 1452.7 219.8 1453 221" fill="none" stroke="#b3a591" stroke-width="0.7" stroke-linecap="round" stroke-linejoin="round"/>
<path d="M1453.6 216C1453.9 217.3 1455.3 222.7 1455.6 224" fill="none" stroke="#b3a591" stroke-width="0.7" stroke-linecap="round" stroke-linejoin="round"/>
<path d="M1459 222C1459.3 222.8 1460.3 226.2 1460.6 227" fill="none" stroke="#b3a591" stroke-width="0.7" stroke-linecap="round" stroke-linejoin="round"/>
<path d="M1462 225C1462.2 225.7 1462.8 228.3 1463 229" fill="none" stroke="#b3a591" stroke-width="0.7" stroke-linecap="round" stroke-linejoin="round"/>
<path d="M1444.6 228C1444.8 229 1445.8 233 1446 234" fill="none" stroke="#b3a591" stroke-width="0.7" stroke-linecap="round" stroke-linejoin="round"/>
<path d="M1455 231C1455.2 231.8 1456.2 235.2 1456.4 236" fill="none" stroke="#b3a591" stroke-width="0.7" stroke-linecap="round" stroke-linejoin="round"/>
<path d="M1738 492C1734.1 494.8 1735.8 498 1735.8 501C1735.8 504 1737.3 507 1738.2 510C1739.1 513 1740.3 515.9 1741.4 519C1742.5 522.1 1743.6 525.5 1744.8 528.6C1746 531.7 1747.1 534.7 1748.4 537.6C1749.7 540.5 1751.1 543.3 1752.6 546C1754.1 548.7 1755.7 551.2 1757.4 553.6C1759.1 556 1760.9 558.4 1762.8 560.6C1764.7 562.8 1766.7 565 1768.8 567C1770.9 569 1773.1 570.8 1775.4 572.4C1777.7 574 1780.1 575.6 1782.4 576.8C1784.7 578 1786.7 578.8 1789 579.4C1791.3 580 1793.5 580.5 1796 580.4C1798.5 580.3 1801.3 579.8 1804 579C1806.7 578.2 1809.5 577.1 1812 575.8C1814.5 574.5 1816.7 573 1819 571.4C1821.3 569.8 1823.5 568.4 1825.6 566.4C1827.7 564.4 1829.7 562 1831.6 559.4C1833.5 556.8 1835.3 554.1 1836.8 551C1838.3 547.9 1839.4 544.4 1840.4 541C1841.4 537.6 1842 534.1 1842.6 530.4C1843.2 526.7 1843.6 522.8 1843.8 519C1844 515.2 1844 511.4 1843.8 507.4C1843.6 503.4 1842.9 499.1 1842.4 495C1841.9 490.9 1841.1 486.8 1840.6 482.6C1840.1 478.4 1839.6 473.8 1839.4 470C1839.2 466.2 1839.2 462.5 1839.4 459.6C1839.6 456.7 1840.1 454.6 1840.8 452.6C1841.5 450.6 1842.6 449.2 1843.8 447.8C1845 446.4 1846.5 444.9 1848 444C1849.5 443.1 1851.4 442.5 1853 442.6C1854.6 442.7 1856.1 443.6 1857.4 444.6C1858.7 445.6 1859.8 446.8 1860.8 448.4C1861.8 450 1862.8 452.1 1863.6 454C1864.4 455.9 1865 458 1865.4 460C1865.8 462 1866 464.1 1866.2 466C1866.4 467.9 1866.4 470.7 1866.4 471.6C1866.4 472.5 1866.1 472.5 1866.4 471.6C1866.7 470.7 1868 468.1 1868.4 466C1868.8 463.9 1868.9 461.2 1868.8 459C1868.7 456.8 1868.3 454.8 1867.6 452.6C1866.9 450.4 1865.9 448 1864.8 446C1863.7 444 1862.4 441.9 1860.8 440.4C1859.2 438.9 1857.1 437.5 1855 437C1852.9 436.5 1850.6 436.9 1848.4 437.6C1846.2 438.3 1843.9 439.6 1842 441C1840.1 442.4 1838.4 444 1837 446C1835.6 448 1834.4 450.3 1833.6 453C1832.8 455.7 1832.5 458.8 1832.4 462C1832.3 465.2 1832.6 468.5 1832.8 472C1833 475.5 1833.4 479.3 1833.8 483C1834.2 486.7 1835 490.3 1835.4 494C1835.8 497.7 1835.9 501.7 1836 505.4C1836.1 509.1 1836.1 512.6 1836 516C1835.9 519.4 1835.8 522.7 1835.4 526C1835 529.3 1834.3 532.6 1833.6 535.6C1832.9 538.6 1832 541.4 1831 544C1830 546.6 1828.7 548.9 1827.4 551C1826.1 553.1 1824.6 554.8 1823 556.6C1821.4 558.4 1819.5 560.1 1817.6 561.6C1815.7 563.1 1813.7 564.5 1811.6 565.6C1809.5 566.7 1807.3 567.8 1805 568.4C1802.7 569 1800.3 569.4 1798 569.4C1795.7 569.4 1793.3 569.1 1791 568.6C1788.7 568.1 1786.5 567.4 1784.4 566.4C1782.3 565.4 1780.5 563.9 1778.6 562.4C1776.7 560.9 1774.8 559.3 1773 557.4C1771.2 555.5 1769.7 553.2 1768 551C1766.3 548.8 1764.4 546.7 1763 544C1761.6 541.3 1760.5 538 1759.6 535C1758.7 532 1757.9 529.2 1757.4 526C1756.9 522.8 1756.8 519.2 1756.8 516C1756.8 512.8 1756.9 510 1757.2 507C1757.5 504 1758.1 500.8 1758.6 498C1759.1 495.2 1760.3 492.7 1760.4 490.4C1760.5 488.1 1762.7 483.7 1759 484C1755.3 484.3 1741.9 489.2 1738 492Z" fill="#fde6d0" stroke="#17130f" stroke-width="1.4" stroke-linejoin="round" stroke-linecap="round"/>
<path d="M1681 479C1679.8 480.8 1683.2 485.9 1682.8 489.8C1682.4 493.7 1680 498 1678.5 502.1C1677 506.2 1675.1 511.1 1673.6 514.4C1672.1 517.7 1670.2 519.4 1669.3 521.9C1668.4 524.4 1668.4 526.8 1668.4 529.3C1668.4 531.8 1668.8 534.8 1669.2 537C1669.6 539.2 1670.4 541.4 1671 542.6C1671.6 543.8 1672.4 544.3 1673 544.4C1673.6 544.5 1674.2 543.7 1674.6 543C1675 542.3 1675.3 540.5 1675.4 540C1675.5 539.5 1675.1 539 1675.4 540C1675.7 541 1676.3 544.2 1677 546C1677.7 547.8 1678.8 549.8 1679.6 550.6C1680.4 551.4 1681 551.5 1681.6 550.8C1682.2 550.1 1682.7 548 1683.2 546.6C1683.7 545.2 1684.2 543.1 1684.4 542.4C1684.6 541.7 1684.2 542 1684.4 542.4C1684.6 542.8 1685.1 544.5 1685.6 545C1686.1 545.5 1686.7 546.2 1687.2 545.6C1687.7 545 1688.1 543.9 1688.6 541.6C1689.1 539.3 1690 534.6 1690.2 531.7C1690.4 528.8 1689.8 527 1689.6 524.3C1689.4 521.6 1688.8 518.8 1689 515.7C1689.2 512.6 1690.2 509.3 1690.9 505.8C1691.6 502.3 1693.3 497.8 1693.3 494.7C1693.3 491.6 1691.4 489.9 1690.9 487.3C1690.4 484.7 1691.9 480.4 1690.2 479C1688.5 477.6 1682.2 477.2 1681 479Z" fill="#fde6d0" stroke="#17130f" stroke-width="1.25" stroke-linejoin="round" stroke-linecap="round"/>
<path d="M1789.9 476C1787.6 479.9 1789.8 486.8 1791.1 490.3C1792.4 493.9 1795.6 494.4 1797.5 497.3C1799.4 500.2 1801.4 504.3 1802.7 507.8C1804 511.3 1804.8 515.2 1805.1 518.3C1805.4 521.4 1804.6 524.4 1804.8 526.6C1805 528.8 1805.5 530.5 1806 531.6C1806.5 532.7 1807.4 533 1808 533C1808.6 533 1809.3 532.2 1809.8 531.4C1810.3 530.6 1810.8 528.6 1811 528C1811.2 527.4 1810.8 527.4 1811 528C1811.2 528.6 1811.6 530.6 1812.2 531.6C1812.8 532.6 1813.6 534 1814.4 534.2C1815.2 534.4 1816.1 533.9 1816.8 533C1817.5 532.1 1818.1 530.4 1818.6 529C1819.1 527.6 1819.8 525.2 1820 524.4C1820.2 523.6 1819.6 524.1 1820 524.4C1820.4 524.7 1821.6 525.9 1822.4 526.4C1823.2 526.9 1824.5 528.1 1825 527.6C1825.5 527.1 1825.3 525.2 1825.2 523.6C1825.1 522 1824.7 520 1824.3 518C1823.9 516 1824.3 513.8 1823.1 511.3C1821.9 508.8 1819.5 505.8 1817.3 503.1C1815.1 500.4 1811.9 497.5 1809.7 495C1807.5 492.5 1805.2 490.5 1803.9 488C1802.6 485.5 1801.9 483.3 1802.1 479.8C1802.3 476.3 1807.1 467.6 1805.1 467C1803.1 466.4 1792.2 472.1 1789.9 476Z" fill="#fde6d0" stroke="#17130f" stroke-width="1.25" stroke-linejoin="round" stroke-linecap="round"/>
<path d="M1685.7 138.3C1685.6 136.3 1685.7 136.5 1685.9 135.9C1686.1 135.3 1686.7 134.7 1687.1 134.7C1687.5 134.7 1687.8 135.2 1688.1 135.9C1688.4 136.6 1688.9 138.6 1689.1 139.1C1689.3 139.6 1689 140.2 1689.1 139.1C1689.2 138 1689.2 134 1689.5 132.3C1689.8 130.6 1690.3 129.1 1690.7 128.9C1691.1 128.7 1691.6 129.6 1692.1 130.9C1692.6 132.2 1693.3 135.9 1693.5 136.9C1693.7 137.9 1693.3 137.9 1693.5 136.9C1693.7 135.9 1694.1 132.5 1694.5 130.9C1694.9 129.3 1695.6 127.3 1696.1 127.1C1696.6 126.9 1697.1 128.7 1697.5 129.9C1697.9 131.1 1698.1 132.2 1698.3 134.3C1698.5 136.4 1699.1 139.1 1698.9 142.3C1698.7 145.5 1697.8 149.6 1697.2 153.3C1696.6 157 1695.5 161 1695.1 164.3C1694.6 167.6 1694.4 170.2 1694.5 173C1694.6 175.8 1695.2 178.7 1695.9 181.3C1696.6 183.9 1698.7 186.4 1698.5 188.7C1698.3 191 1697.2 193.9 1694.5 195.3C1691.8 196.7 1684.7 198.1 1682.5 197.3C1680.3 196.5 1681.4 193.1 1681.5 190.3C1681.6 187.5 1682.4 184 1683.1 180.7C1683.8 177.4 1684.9 174 1685.5 170.3C1686.1 166.7 1686.6 162.6 1686.7 158.8C1686.8 155.1 1686.5 151.2 1686.3 147.8C1686.1 144.4 1685.8 140.3 1685.7 138.3Z" fill="#fde6d0" stroke="#17130f" stroke-width="1.25" stroke-linejoin="round" stroke-linecap="round"/>
<path d="M1784.1 138.9C1783.5 136.8 1783.2 137.4 1783.1 136.7C1783 136 1783.3 135.3 1783.5 134.5C1783.7 133.7 1784.2 132.8 1784.5 131.9C1784.8 131 1784.8 129.6 1785.1 128.9C1785.4 128.2 1785.9 127.7 1786.3 127.9C1786.7 128.1 1787.3 128.9 1787.7 129.9C1788.1 130.9 1788.7 133.2 1788.9 133.9C1789.1 134.6 1788.8 134.3 1788.9 133.9C1789 133.5 1789.2 132.2 1789.5 131.7C1789.8 131.2 1790.3 130.9 1790.7 131.1C1791.1 131.3 1791.4 132.2 1791.7 133.1C1792 134 1792.2 135.9 1792.3 136.5C1792.4 137.1 1792.2 136.8 1792.3 136.5C1792.4 136.2 1792.8 134.8 1793.1 134.5C1793.4 134.2 1793.9 133.8 1794.3 134.7C1794.7 135.6 1795.1 138 1795.5 139.9C1795.9 141.8 1796.2 143.9 1796.5 146.3C1796.8 148.7 1797.2 151.8 1797.1 154.3C1797 156.8 1796.2 159.1 1795.9 161.3C1795.6 163.5 1795.1 165.1 1795 167.3C1794.9 169.5 1795.2 172 1795.5 174.3C1795.8 176.6 1796.2 178.6 1796.9 181.3C1797.6 184 1798.8 188.2 1799.5 190.7C1800.2 193.2 1800.7 194.4 1801.1 196.3C1801.5 198.2 1801.9 200.6 1801.7 201.9C1801.5 203.2 1800.4 203.9 1800.1 204.3C1799.8 204.7 1799.9 204 1800.1 204.3C1800.3 204.6 1801.1 206 1801.3 206.3C1801.5 206.6 1801.7 205.9 1801.3 206.3C1800.9 206.7 1799.5 208.5 1799.1 208.9C1798.7 209.3 1799 208.3 1799.1 208.9C1799.2 209.5 1799.4 211.7 1799.5 212.3C1799.6 212.9 1800 212 1799.5 212.3C1799 212.6 1798.5 216 1796.5 214.3C1794.5 212.6 1790.3 206.1 1787.5 202.3C1784.7 198.5 1780.3 194.5 1779.5 191.7C1778.7 188.9 1781.6 188.1 1782.7 185.3C1783.8 182.5 1785.1 178.8 1785.9 175C1786.7 171.2 1787.6 166.6 1787.7 162.3C1787.8 158 1787.3 153.2 1786.7 149.3C1786.1 145.4 1784.7 141 1784.1 138.9Z" fill="#fde6d0" stroke="#17130f" stroke-width="1.25" stroke-linejoin="round" stroke-linecap="round"/>
<path d="M1683.6 186.5L1685.4 184.5L1685 192.5L1683.4 193.5Z" fill="#c9a68a"/>
<path d="M1696.4 181.5L1699.6 186.5L1697 189.5Z" fill="#c9a68a"/>
<path d="M1740 123.3C1741.2 123.3 1742.9 123.4 1744 124.3C1745.1 125.2 1745.7 126.3 1746.6 128.5C1747.5 130.7 1748.8 134.2 1749.6 137.5C1750.4 140.8 1750.3 145.9 1751.4 148.5C1752.5 151.1 1754.2 151.3 1756 153C1757.8 154.7 1760.1 156.2 1762 158.5C1763.9 160.8 1766 163.7 1767.4 166.5C1768.8 169.3 1769.5 172.7 1770.5 175.5C1771.5 178.3 1772.1 181.2 1773.5 183.5C1774.9 185.8 1776.6 186.2 1779 189.5C1781.4 192.8 1785.3 197.8 1788 203.5C1790.7 209.2 1793.3 217 1795 223.5C1796.7 230 1797.6 238.2 1798.2 242.5C1798.8 246.8 1798.2 246.9 1798.4 249C1798.6 251.1 1799.6 252.8 1799.6 255C1799.6 257.2 1798.3 259.8 1798.2 262C1798.1 264.2 1799.5 266.2 1799.2 268C1798.9 269.8 1797.5 270.7 1796.6 273C1795.7 275.3 1794.8 278.8 1794 282C1793.2 285.2 1792 288.7 1791.5 292C1791 295.3 1790.8 298.8 1790.8 302C1790.8 305.2 1791.1 307.6 1791.5 311.3C1791.9 315 1792.7 319.9 1793.4 324C1794.1 328.1 1794.8 331.7 1795.6 336C1796.4 340.3 1797.5 345.4 1798.4 350C1799.3 354.6 1800.2 359.2 1801 363.5C1801.8 367.8 1802.5 371.9 1803.2 376C1803.9 380.1 1804.4 384.4 1805.2 388.2C1806 392 1807.1 395.4 1808 399C1808.9 402.6 1809.9 406.3 1810.7 410C1811.5 413.7 1812.3 417.3 1813 421C1813.7 424.7 1814.5 428.7 1814.8 432C1815.1 435.3 1815.2 438.2 1815 441C1814.8 443.8 1814.1 446.3 1813.4 449C1812.7 451.7 1811.6 454.5 1810.6 457C1809.6 459.5 1808.5 462.1 1807.6 464C1806.7 465.9 1805.8 467.7 1805.4 468.4C1805 469.1 1805.8 467.6 1805.4 468.4C1805 469.2 1803.4 472.6 1803 473.4C1802.6 474.2 1803.4 473.7 1803 473.4C1802.6 473.1 1801 471.7 1800.6 471.4C1800.2 471.1 1801 470.8 1800.6 471.4C1800.2 472 1798.8 474.6 1798.4 475.2C1798 475.8 1799.6 474.9 1798.4 475.2C1797.2 475.4 1793.7 476.4 1791.4 476.7C1789.1 477 1786.8 477.1 1784.5 477.1C1782.2 477.1 1779.6 476.3 1777.7 476.7C1775.8 477.1 1773.8 479.1 1773 479.6C1772.2 480.1 1773.3 479.8 1773 479.6C1772.7 479.4 1772.1 478.3 1771 478.6C1769.9 478.9 1767.6 480.2 1766.3 481.2C1765 482.2 1763.9 483.6 1762.9 484.7C1762 485.8 1761.4 486.5 1760.6 488C1759.8 489.5 1759.1 492.1 1758.3 493.8C1757.5 495.5 1756.8 496.7 1756 498.3C1755.2 499.9 1753.8 502.4 1753.4 503.2C1753 504 1753.7 503.3 1753.4 503.2C1753.1 503.1 1751.9 502.5 1751.6 502.4C1751.3 502.3 1752 501.9 1751.6 502.4C1751.2 502.9 1749.6 505.1 1749.2 505.6C1748.8 506.1 1750 505.9 1749.2 505.6C1748.5 505.3 1746.4 504.6 1744.7 504C1743 503.4 1740.7 502.6 1739 501.7C1737.3 500.8 1735.9 499.6 1734.4 498.3C1732.9 497 1731.4 495.4 1729.9 493.8C1728.4 492.2 1727 490.5 1725.3 488.8C1723.6 487.1 1721.1 484.9 1719.6 483.5C1718.1 482.1 1717.3 481.2 1716.2 480.6C1715.1 480 1714.1 479.5 1712.8 479.6C1711.5 479.8 1709.9 481 1708.2 481.5C1706.5 482 1704.4 482.7 1702.5 482.8C1700.6 482.9 1698.8 482.7 1696.9 482.4C1695 482.1 1692.7 481.3 1691 481C1689.3 480.7 1688.1 480.9 1686.6 480.6C1685.1 480.3 1683.5 480.6 1682 479C1680.5 477.4 1679.1 474 1677.5 471C1675.9 468 1673.9 464.5 1672.6 461C1671.3 457.5 1670.4 453.5 1669.6 450C1668.8 446.5 1668.2 443.3 1668 440C1667.8 436.7 1668 433.6 1668.2 430C1668.4 426.4 1668.8 421.7 1669.3 418.4C1669.8 415.1 1670.7 412.7 1671.4 410C1672.1 407.3 1672.5 406.6 1673.5 402C1674.5 397.4 1676.5 388.7 1677.6 382.7C1678.7 376.7 1679.3 371.5 1680 366C1680.7 360.5 1681 355.3 1681.7 349.8C1682.4 344.3 1683.3 338.5 1684 333C1684.7 327.5 1685.6 322 1685.8 316.8C1686 311.6 1685.5 306.6 1685 302C1684.5 297.4 1683.9 293.4 1683 289.4C1682.1 285.4 1680.6 281.6 1679.6 278C1678.6 274.4 1678 270.5 1677 268C1676 265.5 1674.2 263.8 1673.6 263C1673 262.2 1673.1 263.5 1673.6 263C1674.1 262.5 1676.1 260.5 1676.6 260C1677.1 259.5 1677.1 261 1676.6 260C1676.1 259 1674.1 255 1673.6 254C1673.1 253 1673 254.7 1673.6 254C1674.2 253.3 1676.2 251.4 1677 250C1677.8 248.6 1677.9 247.2 1678.2 245.6C1678.5 244 1677.2 245.8 1678.8 240.5C1680.4 235.2 1684.5 221.2 1688 213.5C1691.5 205.8 1696.9 199 1700 194.5C1703.1 190 1705.2 189.2 1706.6 186.5C1708 183.8 1707.6 181.5 1708.6 178.5C1709.6 175.5 1710.9 171.7 1712.4 168.5C1713.9 165.3 1715.7 162 1717.6 159.5C1719.5 157 1721.9 155.3 1723.6 153.5C1725.3 151.7 1726.7 151.2 1728 148.5C1729.3 145.8 1730.3 140.8 1731.4 137.5C1732.5 134.2 1733.6 130.7 1734.5 128.5C1735.4 126.3 1735.7 125.2 1736.6 124.3C1737.5 123.4 1738.8 123.3 1740 123.3Z" fill="#c6bba9" stroke="#17130f" stroke-width="1.5" stroke-linejoin="round" stroke-linecap="round"/>
<path d="M1692.1 166.3C1692.3 167.3 1693.2 170.3 1693.5 172.3C1693.8 174.3 1693.8 177.3 1693.9 178.3" fill="none" stroke="#b89f8c" stroke-width="0.6" stroke-linecap="round" stroke-linejoin="round"/>
<path d="M1788.9 172.3C1788.7 173.3 1788.1 176.5 1787.5 178.3C1786.9 180.1 1785.8 182.5 1785.5 183.3" fill="none" stroke="#b89f8c" stroke-width="0.6" stroke-linecap="round" stroke-linejoin="round"/>
<circle cx="1686.9" cy="135.3" r="0.7" fill="#3a2a22"/>
<circle cx="1690.7" cy="129.7" r="0.7" fill="#3a2a22"/>
<circle cx="1696.1" cy="127.9" r="0.7" fill="#3a2a22"/>
<circle cx="1786.3" cy="128.7" r="0.7" fill="#3a2a22"/>
<circle cx="1790.7" cy="131.9" r="0.7" fill="#3a2a22"/>
<circle cx="1794.1" cy="135.3" r="0.7" fill="#3a2a22"/>
<path d="M1675.6 392C1676.2 391.5 1677.8 393.2 1679.6 397C1681.4 400.8 1686.2 413.1 1686.4 414.6C1686.6 416.1 1682.3 408.4 1680.6 406C1678.9 403.6 1676.8 402.3 1676 400C1675.2 397.7 1675 392.5 1675.6 392Z" fill="#977c68"/>
<path d="M1800.6 378C1801.2 378.5 1803.6 386.2 1804.6 391C1805.6 395.8 1806.6 405.8 1806.4 407C1806.2 408.2 1804.3 401.2 1803.4 398C1802.5 394.8 1801.5 391.3 1801 388C1800.5 384.7 1800 377.5 1800.6 378Z" fill="#977c68"/>
<path d="M1680.5 237.8C1681.2 237 1685.9 235.7 1687.9 234.6C1689.9 233.5 1693.5 231.1 1695.3 229.6C1697.1 228.1 1699.9 225 1701.4 223.4C1702.9 221.8 1705.3 218.9 1706.4 217.3C1707.5 215.7 1709.5 211.1 1709.8 211.4C1710.1 211.7 1709.4 217.9 1709 219.6C1708.6 221.3 1707.8 222.4 1707 223.8C1706.2 225.2 1704.1 228.3 1702.7 229.8C1701.3 231.3 1698.3 233.5 1696.5 234.7C1694.7 235.9 1690.9 238.2 1689.1 239C1687.3 239.8 1684.1 240.8 1683 240.6C1681.9 240.4 1679.8 238.6 1680.5 237.8Z" fill="#8f725d"/>
<path d="M1769.6 224C1769.6 223.6 1772.3 228.7 1773.6 230.4C1774.9 232.1 1777.7 235.7 1779 237C1780.3 238.3 1781.9 239.5 1783 240.2C1784.1 240.9 1786.3 241.8 1787.4 242C1788.5 242.2 1790.2 242.2 1791.4 242C1792.6 241.8 1796 240.1 1796.6 240.6C1797.2 241.1 1796.7 244.7 1796 245.6C1795.3 246.5 1792.6 247.4 1791.1 247.4C1789.6 247.4 1786.6 246.5 1784.9 245.6C1783.2 244.7 1780.2 242.4 1778.7 240.8C1777.2 239.2 1775 235.8 1773.8 233.6C1772.6 231.4 1769.6 224.4 1769.6 224Z" fill="#8f725d"/>
<path d="M1707 188.4C1705.3 187.3 1702.2 189.2 1700 189.6C1697.8 190 1696 190.5 1694 191.1C1692 191.7 1689.8 192.5 1688 193.4C1686.2 194.3 1684.4 195.2 1682.9 196.4C1681.4 197.6 1680 198.9 1678.8 200.4C1677.6 201.9 1676.4 203.6 1675.5 205.4C1674.6 207.2 1674 209 1673.4 211C1672.8 213 1672.3 215.1 1671.8 217.4C1671.3 219.7 1670.7 222.5 1670.2 225C1669.7 227.5 1669.2 230.1 1668.7 232.4C1668.2 234.7 1667.8 236.6 1667.4 238.6C1667 240.6 1666.4 242.8 1666.3 244.6C1666.2 246.4 1666.2 248.2 1666.6 249.6C1667 251 1667.8 252.8 1668.7 252.8C1669.6 252.8 1670.9 250.6 1672 249.4C1673.1 248.2 1674.1 247.2 1675.5 245.4C1676.9 243.6 1678.4 240.2 1680.5 238.6C1682.6 237 1685.4 236.9 1687.9 235.6C1690.4 234.3 1693 232.5 1695.3 230.6C1697.5 228.7 1699.6 226.4 1701.4 224.4C1703.2 222.4 1705.1 220.2 1706.4 218.3C1707.8 216.4 1708.8 214.9 1709.5 212.7C1710.2 210.5 1710.7 207.8 1710.8 205C1710.9 202.2 1710.6 198.8 1710 196C1709.4 193.2 1708.7 189.5 1707 188.4Z" fill="#c6bba9"/>
<path d="M1756.5 198.5C1756.2 200.9 1759.2 201.3 1760.4 203C1761.6 204.7 1762.9 206.3 1763.9 208.4C1764.9 210.5 1765.8 213.1 1766.6 215.6C1767.4 218.1 1767.8 220.6 1768.9 223.2C1770 225.8 1771.4 228.5 1773 231C1774.6 233.5 1777 236.3 1778.7 238C1780.4 239.7 1781.5 240.4 1783 241.2C1784.5 242 1786 242.7 1787.4 243C1788.8 243.3 1790.2 243.2 1791.4 243C1792.6 242.8 1794 242 1794.8 241.7C1795.6 241.4 1795.6 241.1 1796.4 241.4C1797.2 241.8 1798.5 243.3 1799.4 243.8C1800.3 244.3 1801.1 244.7 1801.6 244.2C1802.1 243.7 1802.7 242.2 1802.6 240.6C1802.5 239 1801.8 237.2 1801.2 234.6C1800.6 232 1799.9 228.5 1799 225C1798.1 221.5 1797.2 217.1 1796 213.4C1794.8 209.7 1793.7 205.6 1792 202.6C1790.3 199.6 1788.2 197.8 1786 195.6C1783.8 193.4 1781.3 191.4 1779 189.6C1776.7 187.8 1774.8 184.8 1772 184.6C1769.2 184.4 1764.6 186.3 1762 188.6C1759.4 190.9 1756.8 196.1 1756.5 198.5Z" fill="#c6bba9"/>
<path d="M1707 188.4C1705.8 188.6 1702.2 189.2 1700 189.6C1697.8 190 1696 190.5 1694 191.1C1692 191.7 1689.8 192.5 1688 193.4C1686.2 194.3 1684.4 195.2 1682.9 196.4C1681.4 197.6 1680 198.9 1678.8 200.4C1677.6 201.9 1676.4 203.6 1675.5 205.4C1674.6 207.2 1674 209 1673.4 211C1672.8 213 1672.3 215.1 1671.8 217.4C1671.3 219.7 1670.7 222.5 1670.2 225C1669.7 227.5 1669.2 230.1 1668.7 232.4C1668.2 234.7 1667.8 236.6 1667.4 238.6C1667 240.6 1666.4 242.8 1666.3 244.6C1666.2 246.4 1666.2 248.2 1666.6 249.6C1667 251 1667.8 252.8 1668.7 252.8C1669.6 252.8 1670.9 250.6 1672 249.4C1673.1 248.2 1674.1 247.2 1675.5 245.4C1676.9 243.6 1679.7 239.7 1680.5 238.6" fill="none" stroke="#17130f" stroke-width="1.35" stroke-linecap="round" stroke-linejoin="round"/>
<path d="M1796.4 241.4C1796.9 241.8 1798.5 243.3 1799.4 243.8C1800.3 244.3 1801.1 244.7 1801.6 244.2C1802.1 243.7 1802.7 242.2 1802.6 240.6C1802.5 239 1801.8 237.2 1801.2 234.6C1800.6 232 1799.9 228.5 1799 225C1798.1 221.5 1797.2 217.1 1796 213.4C1794.8 209.7 1793.7 205.6 1792 202.6C1790.3 199.6 1788.2 197.8 1786 195.6C1783.8 193.4 1780.2 190.6 1779 189.6" fill="none" stroke="#17130f" stroke-width="1.35" stroke-linecap="round" stroke-linejoin="round"/>
<path d="M1756.5 198.5C1757.2 199.2 1759.2 201.3 1760.4 203C1761.6 204.7 1762.9 206.3 1763.9 208.4C1764.9 210.5 1765.8 213.1 1766.6 215.6C1767.4 218.1 1767.8 220.6 1768.9 223.2C1770 225.8 1771.4 228.5 1773 231C1774.6 233.5 1777.8 236.8 1778.7 238" fill="none" stroke="#9b8875" stroke-width="0.8" stroke-linecap="round" stroke-linejoin="round"/>
<path d="M1709.7 211C1709.8 209.8 1710.6 206.5 1710.6 204C1710.5 201.5 1710.1 198.4 1709.4 196C1708.7 193.6 1706.9 190.7 1706.4 189.6" fill="none" stroke="#b7a996" stroke-width="0.7" stroke-linecap="round" stroke-linejoin="round"/>
<path d="M1756.5 198.5C1756.2 197.9 1755.1 196.2 1754.6 195.1C1754.1 194 1753.6 192.6 1753.4 192.1" fill="none" stroke="#a59380" stroke-width="0.7" stroke-linecap="round" stroke-linejoin="round"/>
<ellipse cx="1740.4" cy="125" rx="3.9" ry="1.7" fill="#1d1512"/>
<path d="M1735.6 149.5C1736.1 150.1 1737.7 151.6 1738.4 153.1C1739.1 154.6 1739.4 156.8 1739.6 158.5C1739.8 160.2 1739.4 162.7 1739.4 163.5" fill="none" stroke="#8d806e" stroke-width="0.8" stroke-linecap="round" stroke-linejoin="round"/>
<path d="M1745.6 149.5C1745.2 150.1 1743.9 151.6 1743.4 153.1C1742.9 154.6 1742.7 156.8 1742.6 158.5C1742.5 160.2 1742.9 162.7 1743 163.5" fill="none" stroke="#8d806e" stroke-width="0.8" stroke-linecap="round" stroke-linejoin="round"/>
<path d="M1738.4 133.5C1738.2 134.5 1737.6 138.5 1737.4 139.5" fill="none" stroke="#a89b89" stroke-width="0.7" stroke-linecap="round" stroke-linejoin="round"/>
<path d="M1742.6 131.5C1742.8 132.7 1743.4 137.3 1743.6 138.5" fill="none" stroke="#a89b89" stroke-width="0.7" stroke-linecap="round" stroke-linejoin="round"/>
<path d="M1744.6 140.5C1744.7 141.2 1745.3 143.8 1745.4 144.5" fill="none" stroke="#a89b89" stroke-width="0.6" stroke-linecap="round" stroke-linejoin="round"/>
<path d="M1729 212.5C1729.3 213.7 1730.7 218.3 1731 219.5" fill="none" stroke="#b3a591" stroke-width="0.7" stroke-linecap="round" stroke-linejoin="round"/>
<path d="M1731.6 214.5C1731.9 215.8 1733.3 221.2 1733.6 222.5" fill="none" stroke="#b3a591" stroke-width="0.7" stroke-linecap="round" stroke-linejoin="round"/>
<path d="M1737 220.5C1737.3 221.3 1738.3 224.7 1738.6 225.5" fill="none" stroke="#b3a591" stroke-width="0.7" stroke-linecap="round" stroke-linejoin="round"/>
<path d="M1740 223.5C1740.2 224.2 1740.8 226.8 1741 227.5" fill="none" stroke="#b3a591" stroke-width="0.7" stroke-linecap="round" stroke-linejoin="round"/>
<path d="M1722.6 226.5C1722.8 227.5 1723.8 231.5 1724 232.5" fill="none" stroke="#b3a591" stroke-width="0.7" stroke-linecap="round" stroke-linejoin="round"/>
<path d="M1733 229.5C1733.2 230.3 1734.2 233.7 1734.4 234.5" fill="none" stroke="#b3a591" stroke-width="0.7" stroke-linecap="round" stroke-linejoin="round"/>
<path d="M1450.3 236C1450.1 237.5 1449.6 241.9 1449.2 245C1448.8 248.1 1448.3 251.8 1447.9 254.6C1447.5 257.4 1447 259.6 1446.6 262C1446.2 264.4 1446 266.6 1445.7 268.9C1445.4 271.2 1445.1 273.8 1444.8 276C1444.5 278.2 1444.4 279.8 1444.1 282C1443.8 284.2 1443.3 286.8 1442.8 289C1442.3 291.2 1441.5 294.2 1441.3 295.2" fill="none" stroke="#1c1814" stroke-width="0.75" stroke-linecap="round" stroke-linejoin="round"/>
<path d="M1446.8 240.4C1447.8 240.8 1451.9 242.2 1452.9 242.6" fill="none" stroke="#15120f" stroke-width="1.5" stroke-linecap="round" stroke-linejoin="round"/>
<path d="M1445.7 246.9C1446.6 247.3 1450.3 248.7 1451.2 249.1" fill="none" stroke="#15120f" stroke-width="1.5" stroke-linecap="round" stroke-linejoin="round"/>
<path d="M1444.4 253.7C1445.4 254.2 1449.3 256.3 1450.3 256.8" fill="none" stroke="#15120f" stroke-width="1.5" stroke-linecap="round" stroke-linejoin="round"/>
<path d="M1440.2 279.3C1441.3 279.7 1445.7 281.1 1446.8 281.5" fill="none" stroke="#15120f" stroke-width="1.5" stroke-linecap="round" stroke-linejoin="round"/>
<path d="M1438.6 284.2C1439.8 284.7 1444.5 286.5 1445.7 287" fill="none" stroke="#15120f" stroke-width="1.5" stroke-linecap="round" stroke-linejoin="round"/>
<path d="M1437.5 288.1C1438.5 288.6 1442.7 290.4 1443.7 290.8" fill="none" stroke="#15120f" stroke-width="1.5" stroke-linecap="round" stroke-linejoin="round"/>
<path d="M1442.4 231.6C1442.6 232.2 1443.5 234.8 1443.7 235.4" fill="none" stroke="#ad9884" stroke-width="0.7" stroke-linecap="round" stroke-linejoin="round"/>
<path d="M1447.9 231C1448.2 231.3 1449.7 232.3 1450 232.6" fill="none" stroke="#ad9884" stroke-width="0.7" stroke-linecap="round" stroke-linejoin="round"/>
<path d="M1454.5 233.8C1455.1 234.3 1457.7 236.5 1458.3 237" fill="none" stroke="#ad9884" stroke-width="0.7" stroke-linecap="round" stroke-linejoin="round"/>
<path d="M1458.9 238.2C1459.2 238.7 1460.5 239.9 1461 241C1461.5 242.1 1462 244.1 1462.2 244.7" fill="none" stroke="#ad9884" stroke-width="0.7" stroke-linecap="round" stroke-linejoin="round"/>
<path d="M1431.5 248.2C1431 248.4 1428.9 249 1428.7 249.6C1428.5 250.2 1430.3 251.3 1430.6 251.6" fill="none" stroke="#ad9884" stroke-width="0.7" stroke-linecap="round" stroke-linejoin="round"/>
<path d="M1424.9 253.5C1425.5 253.9 1428.1 255.3 1428.7 255.7" fill="none" stroke="#ad9884" stroke-width="0.7" stroke-linecap="round" stroke-linejoin="round"/>
<path d="M1464.9 258.6C1464.5 258.9 1462.7 259.8 1462.7 260.6C1462.7 261.4 1464.5 262.8 1464.9 263.2" fill="none" stroke="#ad9884" stroke-width="0.7" stroke-linecap="round" stroke-linejoin="round"/>
<path d="M1462.7 268.9C1462.8 269.4 1462.7 271.1 1463 272C1463.3 272.9 1464.2 274 1464.4 274.4" fill="none" stroke="#ad9884" stroke-width="0.7" stroke-linecap="round" stroke-linejoin="round"/>
<path d="M1426.5 270.5C1427 270.6 1428.9 270.1 1429.3 271.1C1429.7 272.1 1428.8 275.7 1428.7 276.6" fill="none" stroke="#ad9884" stroke-width="0.7" stroke-linecap="round" stroke-linejoin="round"/>
<path d="M1431.5 279.9C1431.3 281.2 1430.6 286.2 1430.4 287.5" fill="none" stroke="#ad9884" stroke-width="0.7" stroke-linecap="round" stroke-linejoin="round"/>
<path d="M1451.8 297.4C1452.1 297.8 1453.1 299.2 1453.4 299.6" fill="none" stroke="#ad9884" stroke-width="0.7" stroke-linecap="round" stroke-linejoin="round"/>
<path d="M1447 303C1447.3 303.3 1448.7 304.7 1449 305" fill="none" stroke="#ad9884" stroke-width="0.7" stroke-linecap="round" stroke-linejoin="round"/>
<path d="M1455 300C1455.3 300.4 1456.3 302 1456.6 302.4" fill="none" stroke="#ad9884" stroke-width="0.7" stroke-linecap="round" stroke-linejoin="round"/>
<path d="M1727.2 244.6C1728 244.9 1727.9 247.5 1728.6 248.4C1729.3 249.3 1730.6 249.4 1731.6 250C1732.6 250.6 1733.2 251.4 1734.4 252.2C1735.6 253 1737.6 253.5 1738.6 254.6C1739.6 255.7 1739.8 257.3 1740.4 259C1741 260.7 1741.6 263.2 1742 265C1742.4 266.8 1742.6 268.3 1742.6 270C1742.6 271.7 1742.4 273.3 1742 275C1741.6 276.7 1741.1 278.4 1740.4 280C1739.7 281.6 1739.1 283.2 1738 284.4C1736.9 285.6 1735.3 286.3 1734 287C1732.7 287.7 1731.2 288 1730 288.4C1728.8 288.8 1727.8 289.3 1726.6 289.6C1725.4 289.9 1723.8 290.5 1722.6 290.2C1721.4 289.9 1720.6 288.8 1719.6 288C1718.6 287.2 1717.6 286.7 1716.8 285.6C1716 284.5 1715.3 283 1714.6 281.6C1713.9 280.2 1713.4 278.6 1712.8 277C1712.2 275.4 1711.5 273.8 1711 272C1710.5 270.2 1709.9 268 1709.8 266C1709.7 264 1710.1 261.7 1710.4 260C1710.7 258.3 1711 257.2 1711.6 256C1712.2 254.8 1713.1 253.6 1714 252.6C1714.9 251.6 1715.9 250.7 1717 249.8C1718.1 248.9 1719.3 247.6 1720.4 247C1721.5 246.4 1722.5 246.8 1723.6 246.4C1724.7 246 1726.4 244.3 1727.2 244.6Z" fill="#f8b9bd" stroke="#c9a48e" stroke-width="1.1" stroke-linejoin="round"/>
<path d="M1722.6 253C1723.4 252.4 1722.1 252.4 1722.6 253C1723.1 253.6 1724.7 255.4 1725.6 256.6C1726.5 257.8 1727 259 1728 260C1729 261 1731 262 1731.6 262.4C1732.2 262.8 1730.9 263 1731.6 262.4C1732.3 261.8 1734.9 259.4 1735.6 258.8C1736.3 258.2 1735.3 258.1 1735.6 258.8C1735.9 259.5 1737.1 261.5 1737.6 263C1738.1 264.5 1738.5 266.4 1738.4 268C1738.3 269.6 1737.6 271.3 1737 272.6C1736.4 273.9 1735.8 275.1 1734.6 276C1733.4 276.9 1731.3 277.6 1730 278.2C1728.7 278.8 1727.8 278.9 1726.6 279.4C1725.4 279.9 1723.6 281.1 1723 281.4C1722.4 281.7 1723.5 282 1723 281.4C1722.5 280.8 1720.9 279.2 1720 278C1719.1 276.8 1718.3 275.6 1717.4 274C1716.5 272.4 1715.1 270.3 1714.6 268.6C1714.1 266.9 1714.1 265.4 1714.2 264C1714.3 262.6 1714.6 261.2 1715.2 260C1715.8 258.8 1716.8 257.8 1718 256.6C1719.2 255.4 1721.8 253.6 1722.6 253Z" fill="#ef6678" stroke="#d6457d" stroke-width="0.9" stroke-linejoin="round"/>
<path d="M1717 262C1717.3 260.3 1719.7 259 1721 259C1722.3 259 1723.9 260.8 1725 262C1726.1 263.2 1727.8 264.7 1727.6 266C1727.4 267.3 1725.4 269.5 1724 270C1722.6 270.5 1720.2 270.3 1719 269C1717.8 267.7 1716.7 263.7 1717 262Z" fill="#f37f8b"/>
<path d="M1727.4 274C1726.7 274 1727.3 274.5 1727.4 274C1727.5 273.5 1728.5 269.5 1728.6 269C1728.7 268.5 1728.3 269 1728.6 269C1728.9 269 1731 268.3 1731.6 268.8C1732.2 269.3 1733.9 273.1 1734.2 273.6C1734.5 274.1 1734.9 273.6 1734.2 273.6C1733.5 273.6 1728.1 274 1727.4 274Z" fill="#efe0a8" stroke="#c9b083" stroke-width="0.5"/>
<circle cx="1721.5" cy="259.5" r="1.25" fill="#fde9df"/>
<circle cx="1725" cy="261" r="0.95" fill="#fde9df"/>
<circle cx="1717.6" cy="266" r="1.0" fill="#fde9df"/>
<circle cx="1722" cy="265.6" r="0.95" fill="#fde9df"/>
<circle cx="1729.4" cy="265.6" r="0.8" fill="#fde9df"/>
<circle cx="1719.6" cy="262.6" r="0.7" fill="#fde9df"/>
<path d="M1714 272C1714.3 272.8 1714.9 275.4 1715.6 277C1716.3 278.6 1717.6 280.8 1718 281.6" fill="none" stroke="#fcd6d6" stroke-width="1.1" stroke-linecap="round" stroke-linejoin="round"/>
<path d="M1719.6 283C1719.8 283.5 1720.8 285.5 1721 286" fill="none" stroke="#fcd6d6" stroke-width="1.1" stroke-linecap="round" stroke-linejoin="round"/>
<path d="M1730 283C1729.7 283.5 1728.7 285.5 1728.4 286" fill="none" stroke="#fcd6d6" stroke-width="1.1" stroke-linecap="round" stroke-linejoin="round"/>
<path d="M1739.6 264C1739.8 265 1740.4 269 1740.6 270" fill="none" stroke="#fcd6d6" stroke-width="1.1" stroke-linecap="round" stroke-linejoin="round"/>
<path d="M1714.4 256.6C1715.1 255.9 1717.9 253.3 1718.6 252.6" fill="none" stroke="#f3909a" stroke-width="0.8" stroke-linecap="round" stroke-linejoin="round"/>
<path d="M1727 248.6C1727.2 249.3 1727.8 251.9 1728 252.6" fill="none" stroke="#f3909a" stroke-width="0.8" stroke-linecap="round" stroke-linejoin="round"/>
<path d="M1731 253.6C1731.3 254.2 1732.3 256.4 1732.6 257" fill="none" stroke="#f3909a" stroke-width="0.8" stroke-linecap="round" stroke-linejoin="round"/>
<path d="M1710.6 249.4C1710.9 249.8 1712.3 251.6 1712.6 252" fill="none" stroke="#221d19" stroke-width="1.3" stroke-linecap="round" stroke-linejoin="round"/>
<path d="M1705 261.6C1705.4 261.8 1707.2 262.6 1707.6 262.8" fill="none" stroke="#221d19" stroke-width="1.3" stroke-linecap="round" stroke-linejoin="round"/>
<path d="M1706.6 275.4C1707.2 275.4 1709.6 275.6 1710.2 275.6" fill="none" stroke="#221d19" stroke-width="1.3" stroke-linecap="round" stroke-linejoin="round"/>
<path d="M1743.2 261.2C1743.5 260.8 1744.5 259.2 1744.8 258.8" fill="none" stroke="#221d19" stroke-width="1.3" stroke-linecap="round" stroke-linejoin="round"/>
<path d="M1743.6 268.4C1743.9 268.2 1745.3 267.2 1745.6 267" fill="none" stroke="#221d19" stroke-width="1.3" stroke-linecap="round" stroke-linejoin="round"/>
<path d="M1741.2 280.6C1741.5 280.4 1742.9 279.6 1743.2 279.4" fill="none" stroke="#221d19" stroke-width="1.3" stroke-linecap="round" stroke-linejoin="round"/>
<path d="M1727.4 240.4C1727.4 241.2 1727.6 244.2 1727.6 245" fill="none" stroke="#9c8571" stroke-width="0.7" stroke-linecap="round" stroke-linejoin="round"/>
<path d="M1732 248C1732.2 248.4 1732.8 250 1733 250.4" fill="none" stroke="#9c8571" stroke-width="0.7" stroke-linecap="round" stroke-linejoin="round"/>
<path d="M1439 462C1439.4 463 1440.9 466.3 1441.6 468C1442.3 469.7 1442.8 471.3 1443 472" fill="none" stroke="#8f8270" stroke-width="0.6" stroke-linecap="round" stroke-linejoin="round"/>
<path d="M1441.6 464C1442 464.9 1443.2 468 1444 469.6C1444.8 471.2 1446 472.9 1446.4 473.6" fill="none" stroke="#8f8270" stroke-width="0.6" stroke-linecap="round" stroke-linejoin="round"/>
<path d="M1443.6 467C1444 467.7 1445.6 470.3 1446 471" fill="none" stroke="#8f8270" stroke-width="0.6" stroke-linecap="round" stroke-linejoin="round"/>
<path d="M1447 470C1447.3 470.5 1448.3 472.5 1448.6 473" fill="none" stroke="#8f8270" stroke-width="0.6" stroke-linecap="round" stroke-linejoin="round"/>
<path d="M1472 490C1472.3 489.3 1473.3 487.1 1474 486C1474.7 484.9 1476 484 1476.4 483.6" fill="none" stroke="#8f8270" stroke-width="0.6" stroke-linecap="round" stroke-linejoin="round"/>
<path d="M1474.6 488.6C1475.1 487.8 1476.5 485.3 1477.6 484C1478.7 482.7 1480.4 481.5 1481 481" fill="none" stroke="#8f8270" stroke-width="0.6" stroke-linecap="round" stroke-linejoin="round"/>
<path d="M1480 482C1480.4 481.4 1482.2 479.2 1482.6 478.6" fill="none" stroke="#8f8270" stroke-width="0.6" stroke-linecap="round" stroke-linejoin="round"/>
<path d="M1402.4 429C1402.6 429.5 1403.4 431.5 1403.6 432" fill="none" stroke="#8f8270" stroke-width="0.6" stroke-linecap="round" stroke-linejoin="round"/>
<path d="M1407 432.6C1407.3 432.9 1408.7 434.1 1409 434.4" fill="none" stroke="#8f8270" stroke-width="0.6" stroke-linecap="round" stroke-linejoin="round"/>
<path d="M1683 433.4C1683.2 434.3 1683.4 437.3 1684 439C1684.6 440.7 1686.2 442.9 1686.6 443.7" fill="none" stroke="#8f8270" stroke-width="0.6" stroke-linecap="round" stroke-linejoin="round"/>
<path d="M1723 474.4C1723.5 475.2 1725.1 477.7 1726 479C1726.9 480.3 1728.2 481.5 1728.6 482" fill="none" stroke="#8f8270" stroke-width="0.6" stroke-linecap="round" stroke-linejoin="round"/>
<path d="M1727 475.6C1727.6 476.4 1729.5 479.2 1730.6 480.6C1731.7 482 1732.9 483.4 1733.4 484" fill="none" stroke="#8f8270" stroke-width="0.6" stroke-linecap="round" stroke-linejoin="round"/>
<path d="M1731.6 478C1732.3 479.1 1734.9 483.6 1735.6 484.7" fill="none" stroke="#8f8270" stroke-width="0.6" stroke-linecap="round" stroke-linejoin="round"/>
<path d="M1755 475.5C1755.5 474.6 1756.9 471.5 1758 470C1759.1 468.5 1761.2 467 1761.8 466.4" fill="none" stroke="#8f8270" stroke-width="0.6" stroke-linecap="round" stroke-linejoin="round"/>
<path d="M1757.6 474C1758 473.4 1759.6 471.2 1760 470.6" fill="none" stroke="#8f8270" stroke-width="0.6" stroke-linecap="round" stroke-linejoin="round"/>
<path d="M1766.3 452.8C1766.4 453.8 1766.7 457.6 1766.8 458.5" fill="none" stroke="#8f8270" stroke-width="0.6" stroke-linecap="round" stroke-linejoin="round"/>
<path d="M1809.6 430C1809.7 431 1809.9 435 1810 436" fill="none" stroke="#8f8270" stroke-width="0.6" stroke-linecap="round" stroke-linejoin="round"/>
<path d="M1808 440C1808.1 440.7 1808.5 443.3 1808.6 444" fill="none" stroke="#8f8270" stroke-width="0.6" stroke-linecap="round" stroke-linejoin="round"/>
<path d="M1398.4 528C1398.3 528.8 1397.6 531.5 1397.6 533C1397.6 534.5 1398.3 536.3 1398.4 537" fill="none" stroke="#c8ac98" stroke-width="0.6" stroke-linecap="round" stroke-linejoin="round"/>
<path d="M1402.6 531C1402.6 532 1402.3 535 1402.4 537C1402.5 539 1403.2 542 1403.4 543" fill="none" stroke="#c8ac98" stroke-width="0.6" stroke-linecap="round" stroke-linejoin="round"/>
<path d="M1407.6 531C1407.7 531.8 1408.2 534.4 1408.4 536C1408.6 537.6 1408.6 539.8 1408.6 540.6" fill="none" stroke="#c8ac98" stroke-width="0.6" stroke-linecap="round" stroke-linejoin="round"/>
<path d="M1404 516C1404.3 517 1405.3 521 1405.6 522" fill="none" stroke="#c8ac98" stroke-width="0.6" stroke-linecap="round" stroke-linejoin="round"/>
<path d="M1409 514C1409.1 515 1409.3 519 1409.4 520" fill="none" stroke="#c8ac98" stroke-width="0.6" stroke-linecap="round" stroke-linejoin="round"/>
<path d="M1515.6 527C1515.5 527.8 1515.1 530.4 1515.2 532C1515.3 533.6 1515.9 535.7 1516 536.4" fill="none" stroke="#c8ac98" stroke-width="0.6" stroke-linecap="round" stroke-linejoin="round"/>
<path d="M1519.6 527C1519.8 527.8 1520.3 530.3 1520.6 532C1520.9 533.7 1521.3 536.2 1521.4 537" fill="none" stroke="#c8ac98" stroke-width="0.6" stroke-linecap="round" stroke-linejoin="round"/>
<path d="M1524.6 524C1524.9 524.8 1525.9 527.5 1526.4 529C1526.9 530.5 1527.4 532.3 1527.6 533" fill="none" stroke="#c8ac98" stroke-width="0.6" stroke-linecap="round" stroke-linejoin="round"/>
<path d="M1517 508C1517.2 509 1517.8 513 1518 514" fill="none" stroke="#c8ac98" stroke-width="0.6" stroke-linecap="round" stroke-linejoin="round"/>
<path d="M1520.4 506C1520.5 506.8 1520.9 510.2 1521 511" fill="none" stroke="#c8ac98" stroke-width="0.6" stroke-linecap="round" stroke-linejoin="round"/>
<path d="M1672.6 530C1672.6 530.8 1672.3 533.3 1672.4 535C1672.5 536.7 1673.2 539.2 1673.4 540" fill="none" stroke="#c8ac98" stroke-width="0.6" stroke-linecap="round" stroke-linejoin="round"/>
<path d="M1677.6 531C1677.7 532.2 1678 535.7 1678.4 538C1678.8 540.3 1679.7 543.8 1680 545" fill="none" stroke="#c8ac98" stroke-width="0.6" stroke-linecap="round" stroke-linejoin="round"/>
<path d="M1684.6 530C1684.8 531 1685.4 534.2 1685.6 536C1685.8 537.8 1685.9 540.2 1686 541" fill="none" stroke="#c8ac98" stroke-width="0.6" stroke-linecap="round" stroke-linejoin="round"/>
<path d="M1679 512C1679.3 513.2 1680.3 517.8 1680.6 519" fill="none" stroke="#c8ac98" stroke-width="0.6" stroke-linecap="round" stroke-linejoin="round"/>
<path d="M1684 508C1684.1 509 1684.3 513 1684.4 514" fill="none" stroke="#c8ac98" stroke-width="0.6" stroke-linecap="round" stroke-linejoin="round"/>
<path d="M1808.6 519C1808.6 519.8 1808.3 522.3 1808.4 524C1808.5 525.7 1808.9 528.2 1809 529" fill="none" stroke="#c8ac98" stroke-width="0.6" stroke-linecap="round" stroke-linejoin="round"/>
<path d="M1813 518.6C1813.2 519.4 1814 521.9 1814.4 523.6C1814.8 525.3 1815.4 528.1 1815.6 529" fill="none" stroke="#c8ac98" stroke-width="0.6" stroke-linecap="round" stroke-linejoin="round"/>
<path d="M1818.4 515C1818.8 515.7 1819.9 517.7 1820.6 519C1821.3 520.3 1822.1 522.3 1822.4 523" fill="none" stroke="#c8ac98" stroke-width="0.6" stroke-linecap="round" stroke-linejoin="round"/>
<path d="M1806 503C1806.5 503.8 1808.5 507.2 1809 508" fill="none" stroke="#c8ac98" stroke-width="0.6" stroke-linecap="round" stroke-linejoin="round"/>
<path d="M1809.6 500C1810.2 500.8 1812.4 504.2 1813 505" fill="none" stroke="#c8ac98" stroke-width="0.6" stroke-linecap="round" stroke-linejoin="round"/>
<path d="M1464 505C1464.4 506.2 1465.6 509.7 1466.4 512C1467.2 514.3 1468.6 517.8 1469 519" fill="none" stroke="#c8ac98" stroke-width="0.6" stroke-linecap="round" stroke-linejoin="round"/>
<path d="M1470 508C1470.3 509 1471.3 513 1471.6 514" fill="none" stroke="#c8ac98" stroke-width="0.6" stroke-linecap="round" stroke-linejoin="round"/>
<path d="M1742 508C1742.4 509.2 1743.6 512.7 1744.4 515C1745.2 517.3 1746.6 520.8 1747 522" fill="none" stroke="#c8ac98" stroke-width="0.6" stroke-linecap="round" stroke-linejoin="round"/>
<path d="M1748 510C1748.3 511 1749.3 515 1749.6 516" fill="none" stroke="#c8ac98" stroke-width="0.6" stroke-linecap="round" stroke-linejoin="round"/>
</g>
</svg>
</body></html>
